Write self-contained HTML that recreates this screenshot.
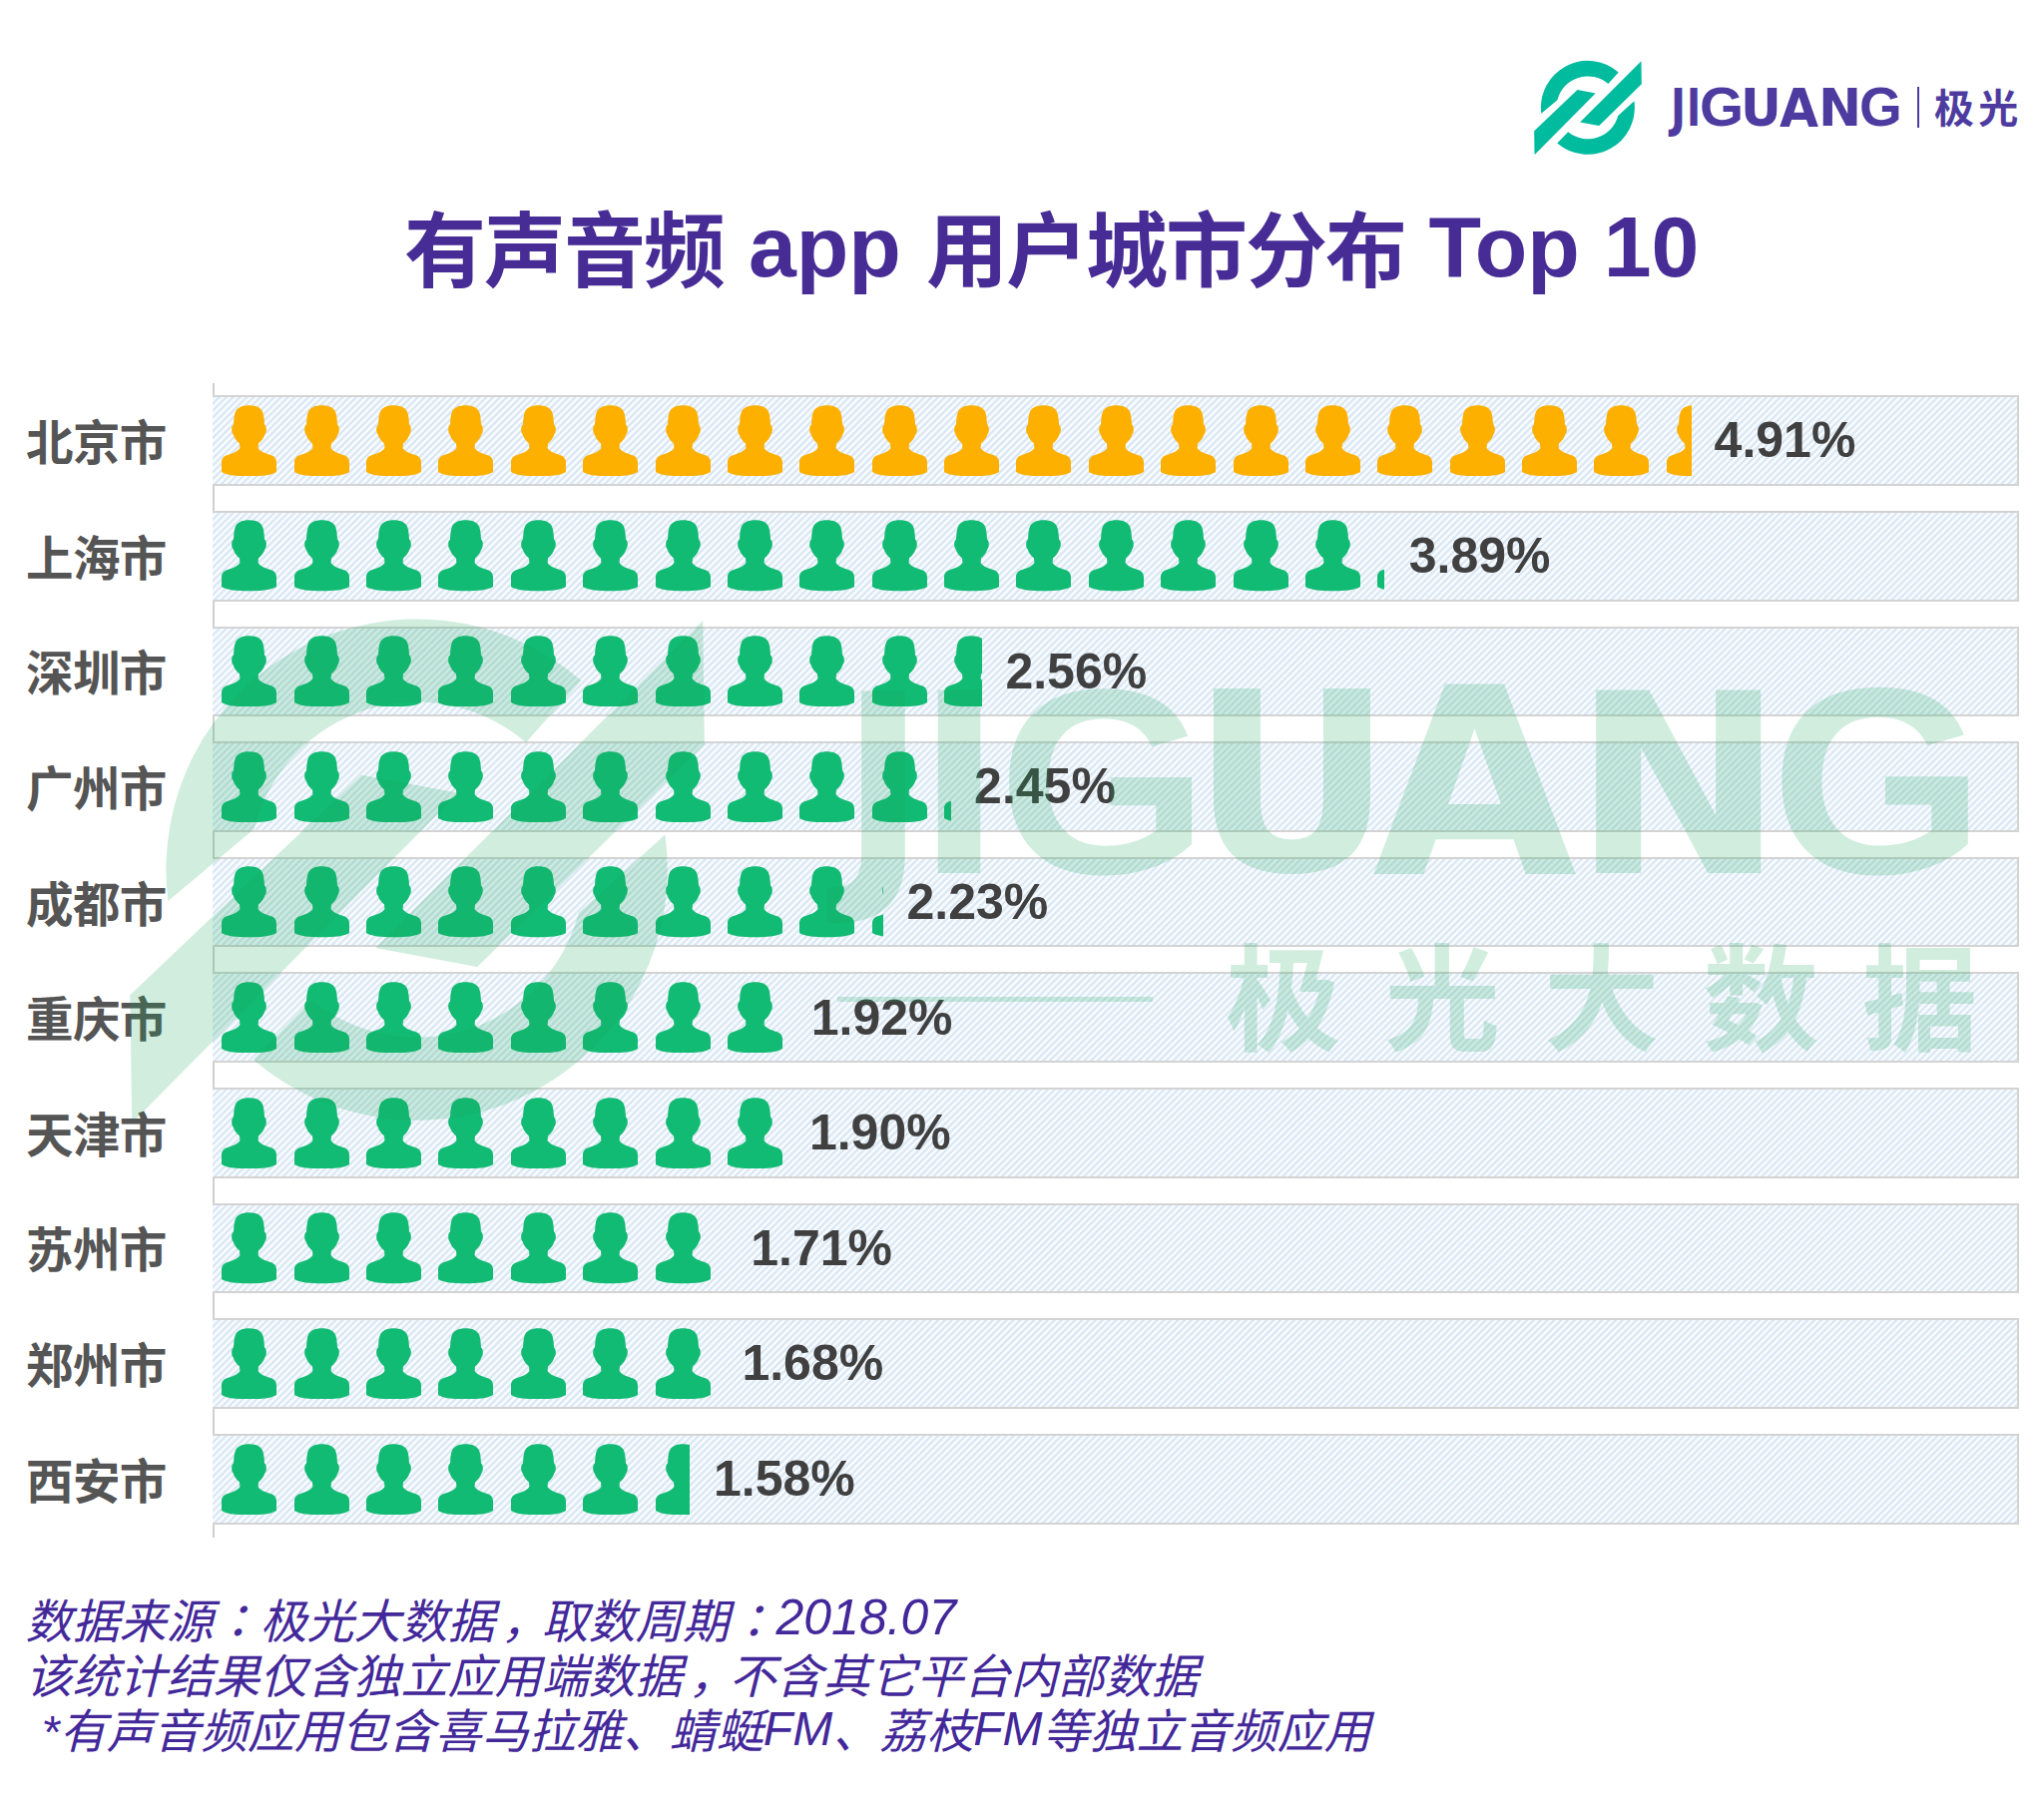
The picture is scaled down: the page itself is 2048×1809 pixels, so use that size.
<!DOCTYPE html>
<html lang="zh-CN"><head><meta charset="utf-8"><title>有声音频 app 用户城市分布 Top 10</title>
<style>
html,body{margin:0;padding:0;background:#fff;}
body{width:2048px;height:1809px;position:relative;overflow:hidden;font-family:"Liberation Sans","Noto Sans CJK SC",sans-serif;}
.abs{position:absolute;display:block;}
.band{position:absolute;left:213px;width:1807.7px;height:86.7px;border:2px solid #d3d3d3;border-left:0;
 background-color:#fdfeff;
 background-image:repeating-linear-gradient(135deg,#d2e3f3 0px,#ebf2f9 1.2px,#fdfeff 2.2px,#fdfeff 2.65px,#ebf2f9 3.65px,#d2e3f3 4.85px);}
.lbl{position:absolute;left:26.1px;font:bold 47.5px/1 "Liberation Sans","Noto Sans CJK SC",sans-serif;letter-spacing:-0.7px;color:#555;white-space:nowrap;}
.pct{position:absolute;font:bold 50px/1 "Liberation Sans",sans-serif;color:#404040;white-space:nowrap;}
.icons{position:absolute;height:72px;overflow:hidden;}
.icons svg{position:absolute;top:0;width:55px;height:71.3px;}
.tc{position:absolute;font:bold 82px/1 "Liberation Sans","Noto Sans CJK SC",sans-serif;letter-spacing:-2px;color:#482C96;white-space:nowrap;}
.tl{position:absolute;font:bold 86px/1 "Liberation Sans",sans-serif;color:#482C96;white-space:nowrap;}
.foot{position:absolute;left:25.5px;font:italic 47px/1 "Liberation Sans","Noto Sans CJK SC",sans-serif;color:#43289A;white-space:nowrap;}
.cj{font-family:"Liberation Sans","Noto Sans CJK JP",sans-serif;}
.cm{position:relative;left:6.5px;}
.ld{font-size:50px;line-height:0;position:relative;top:-4px;}
.fm{font-size:48px;line-height:0;position:relative;top:-3px;}
.wm{position:absolute;left:0;top:0;width:2048px;height:1809px;pointer-events:none;}
</style></head><body>

<svg class="abs" style="left:1530.00px;top:55.00px;width:120.00px;height:105.03px" viewBox="0 0 2044 1789" fill="#00BB9E"><path d="M243.3 1000.3A800 800 0 0 1 1561.8 296.2L1385.2 493.8A535 535 0 0 0 518.1 769.7Z"/><path d="M1829.1 788.0A800 800 0 0 1 515.3 1506.5L701.0 1316.4A535 535 0 0 0 1553.8 1038.5Z"/><path d="M122 1300L860 598L1170 655L140 1697L128 1697Z"/><path d="M1950 105L1955 500L1230 1210L905 1150Z"/></svg>
<div class="abs" style="left:1674.02px;top:83.13px;font:bold 51.08px/1 'DejaVu Sans',sans-serif;color:#4E3BA0;transform-origin:0 0;transform:scaleX(0.7890);white-space:nowrap;">J</div>
<div class="abs" style="left:1690.09px;top:83.06px;font:bold 51.64px/1 'DejaVu Sans',sans-serif;color:#4E3BA0;transform-origin:0 0;transform:scaleX(0.7338);white-space:nowrap;">I</div>
<div class="abs" style="left:1703.03px;top:79.93px;font:bold 55.63px/1 'Liberation Sans',sans-serif;color:#4E3BA0;transform-origin:0 0;transform:scaleX(1.0199);white-space:nowrap;">G</div>
<div class="abs" style="left:1744.17px;top:82.81px;font:bold 51.62px/1 'DejaVu Sans',sans-serif;color:#4E3BA0;transform-origin:0 0;transform:scaleX(0.9747);white-space:nowrap;">U</div>
<div class="abs" style="left:1782.85px;top:81.86px;font:bold 53.38px/1 'DejaVu Sans',sans-serif;color:#4E3BA0;transform-origin:0 0;transform:scaleX(0.9466);white-space:nowrap;">A</div>
<div class="abs" style="left:1821.56px;top:83.06px;font:bold 51.64px/1 'DejaVu Sans',sans-serif;color:#4E3BA0;transform-origin:0 0;transform:scaleX(0.9992);white-space:nowrap;">N</div>
<div class="abs" style="left:1863.30px;top:79.93px;font:bold 55.63px/1 'Liberation Sans',sans-serif;color:#4E3BA0;transform-origin:0 0;transform:scaleX(0.9879);white-space:nowrap;">G</div>
<div class="abs" style="left:1921.3px;top:87.2px;width:1.7px;height:41.3px;background:#4E3BA0;"></div>
<div class="abs" style="left:1938px;top:89.2px;font:bold 40px/1 'Liberation Sans','Noto Sans CJK SC',sans-serif;letter-spacing:4.3px;color:#4E3BA0;white-space:nowrap;">极光</div>
<div class="tc" style="left:405px;top:211.6px">有声音频</div>
<div class="tl" style="left:750px;top:204.3px">app</div>
<div class="tc" style="left:928px;top:211.6px">用户城市分布</div>
<div class="tl" style="left:1431.6px;top:204.3px">Top 10</div>
<div class="abs" style="left:213px;top:384px;width:2px;height:1157px;background:#d0d0d0;"></div>
<div class="band" style="top:396.20px"></div>
<div class="lbl" style="top:420.90px">北京市</div>
<div class="icons" style="left:222.3px;top:405.80px;width:1472.70px"><svg style="left:0.000px" viewBox="0 0 55 71.3" fill="#FEB000"><path d="M27.5 0.2C34 0.2 39 2.2 41 6.5C42.2 9.5 42.5 12.5 42.7 15L43 19.5C45.3 20.5 45.5 27.5 43.3 29.5C42.5 32.5 40.5 35.5 37 38.5L36.6 43C38 46 43 48 49 50C53.5 51.5 55 54 55 57.5L55 67C50 70.3 40 71.3 27.5 71.3C15 71.3 5 70.3 0 67L0 57.5C0 54 1.5 51.5 6 50C12 48 17 46 18.4 43L18 38.5C14.5 35.5 12.5 32.5 11.7 29.5C9.5 27.5 9.7 20.5 12 19.5L12.3 15C12.5 12.5 12.8 9.5 14 6.5C16 2.2 21 0.2 27.5 0.2Z"/></svg><svg style="left:72.375px" viewBox="0 0 55 71.3" fill="#FEB000"><path d="M27.5 0.2C34 0.2 39 2.2 41 6.5C42.2 9.5 42.5 12.5 42.7 15L43 19.5C45.3 20.5 45.5 27.5 43.3 29.5C42.5 32.5 40.5 35.5 37 38.5L36.6 43C38 46 43 48 49 50C53.5 51.5 55 54 55 57.5L55 67C50 70.3 40 71.3 27.5 71.3C15 71.3 5 70.3 0 67L0 57.5C0 54 1.5 51.5 6 50C12 48 17 46 18.4 43L18 38.5C14.5 35.5 12.5 32.5 11.7 29.5C9.5 27.5 9.7 20.5 12 19.5L12.3 15C12.5 12.5 12.8 9.5 14 6.5C16 2.2 21 0.2 27.5 0.2Z"/></svg><svg style="left:144.750px" viewBox="0 0 55 71.3" fill="#FEB000"><path d="M27.5 0.2C34 0.2 39 2.2 41 6.5C42.2 9.5 42.5 12.5 42.7 15L43 19.5C45.3 20.5 45.5 27.5 43.3 29.5C42.5 32.5 40.5 35.5 37 38.5L36.6 43C38 46 43 48 49 50C53.5 51.5 55 54 55 57.5L55 67C50 70.3 40 71.3 27.5 71.3C15 71.3 5 70.3 0 67L0 57.5C0 54 1.5 51.5 6 50C12 48 17 46 18.4 43L18 38.5C14.5 35.5 12.5 32.5 11.7 29.5C9.5 27.5 9.7 20.5 12 19.5L12.3 15C12.5 12.5 12.8 9.5 14 6.5C16 2.2 21 0.2 27.5 0.2Z"/></svg><svg style="left:217.125px" viewBox="0 0 55 71.3" fill="#FEB000"><path d="M27.5 0.2C34 0.2 39 2.2 41 6.5C42.2 9.5 42.5 12.5 42.7 15L43 19.5C45.3 20.5 45.5 27.5 43.3 29.5C42.5 32.5 40.5 35.5 37 38.5L36.6 43C38 46 43 48 49 50C53.5 51.5 55 54 55 57.5L55 67C50 70.3 40 71.3 27.5 71.3C15 71.3 5 70.3 0 67L0 57.5C0 54 1.5 51.5 6 50C12 48 17 46 18.4 43L18 38.5C14.5 35.5 12.5 32.5 11.7 29.5C9.5 27.5 9.7 20.5 12 19.5L12.3 15C12.5 12.5 12.8 9.5 14 6.5C16 2.2 21 0.2 27.5 0.2Z"/></svg><svg style="left:289.500px" viewBox="0 0 55 71.3" fill="#FEB000"><path d="M27.5 0.2C34 0.2 39 2.2 41 6.5C42.2 9.5 42.5 12.5 42.7 15L43 19.5C45.3 20.5 45.5 27.5 43.3 29.5C42.5 32.5 40.5 35.5 37 38.5L36.6 43C38 46 43 48 49 50C53.5 51.5 55 54 55 57.5L55 67C50 70.3 40 71.3 27.5 71.3C15 71.3 5 70.3 0 67L0 57.5C0 54 1.5 51.5 6 50C12 48 17 46 18.4 43L18 38.5C14.5 35.5 12.5 32.5 11.7 29.5C9.5 27.5 9.7 20.5 12 19.5L12.3 15C12.5 12.5 12.8 9.5 14 6.5C16 2.2 21 0.2 27.5 0.2Z"/></svg><svg style="left:361.875px" viewBox="0 0 55 71.3" fill="#FEB000"><path d="M27.5 0.2C34 0.2 39 2.2 41 6.5C42.2 9.5 42.5 12.5 42.7 15L43 19.5C45.3 20.5 45.5 27.5 43.3 29.5C42.5 32.5 40.5 35.5 37 38.5L36.6 43C38 46 43 48 49 50C53.5 51.5 55 54 55 57.5L55 67C50 70.3 40 71.3 27.5 71.3C15 71.3 5 70.3 0 67L0 57.5C0 54 1.5 51.5 6 50C12 48 17 46 18.4 43L18 38.5C14.5 35.5 12.5 32.5 11.7 29.5C9.5 27.5 9.7 20.5 12 19.5L12.3 15C12.5 12.5 12.8 9.5 14 6.5C16 2.2 21 0.2 27.5 0.2Z"/></svg><svg style="left:434.250px" viewBox="0 0 55 71.3" fill="#FEB000"><path d="M27.5 0.2C34 0.2 39 2.2 41 6.5C42.2 9.5 42.5 12.5 42.7 15L43 19.5C45.3 20.5 45.5 27.5 43.3 29.5C42.5 32.5 40.5 35.5 37 38.5L36.6 43C38 46 43 48 49 50C53.5 51.5 55 54 55 57.5L55 67C50 70.3 40 71.3 27.5 71.3C15 71.3 5 70.3 0 67L0 57.5C0 54 1.5 51.5 6 50C12 48 17 46 18.4 43L18 38.5C14.5 35.5 12.5 32.5 11.7 29.5C9.5 27.5 9.7 20.5 12 19.5L12.3 15C12.5 12.5 12.8 9.5 14 6.5C16 2.2 21 0.2 27.5 0.2Z"/></svg><svg style="left:506.625px" viewBox="0 0 55 71.3" fill="#FEB000"><path d="M27.5 0.2C34 0.2 39 2.2 41 6.5C42.2 9.5 42.5 12.5 42.7 15L43 19.5C45.3 20.5 45.5 27.5 43.3 29.5C42.5 32.5 40.5 35.5 37 38.5L36.6 43C38 46 43 48 49 50C53.5 51.5 55 54 55 57.5L55 67C50 70.3 40 71.3 27.5 71.3C15 71.3 5 70.3 0 67L0 57.5C0 54 1.5 51.5 6 50C12 48 17 46 18.4 43L18 38.5C14.5 35.5 12.5 32.5 11.7 29.5C9.5 27.5 9.7 20.5 12 19.5L12.3 15C12.5 12.5 12.8 9.5 14 6.5C16 2.2 21 0.2 27.5 0.2Z"/></svg><svg style="left:579.000px" viewBox="0 0 55 71.3" fill="#FEB000"><path d="M27.5 0.2C34 0.2 39 2.2 41 6.5C42.2 9.5 42.5 12.5 42.7 15L43 19.5C45.3 20.5 45.5 27.5 43.3 29.5C42.5 32.5 40.5 35.5 37 38.5L36.6 43C38 46 43 48 49 50C53.5 51.5 55 54 55 57.5L55 67C50 70.3 40 71.3 27.5 71.3C15 71.3 5 70.3 0 67L0 57.5C0 54 1.5 51.5 6 50C12 48 17 46 18.4 43L18 38.5C14.5 35.5 12.5 32.5 11.7 29.5C9.5 27.5 9.7 20.5 12 19.5L12.3 15C12.5 12.5 12.8 9.5 14 6.5C16 2.2 21 0.2 27.5 0.2Z"/></svg><svg style="left:651.375px" viewBox="0 0 55 71.3" fill="#FEB000"><path d="M27.5 0.2C34 0.2 39 2.2 41 6.5C42.2 9.5 42.5 12.5 42.7 15L43 19.5C45.3 20.5 45.5 27.5 43.3 29.5C42.5 32.5 40.5 35.5 37 38.5L36.6 43C38 46 43 48 49 50C53.5 51.5 55 54 55 57.5L55 67C50 70.3 40 71.3 27.5 71.3C15 71.3 5 70.3 0 67L0 57.5C0 54 1.5 51.5 6 50C12 48 17 46 18.4 43L18 38.5C14.5 35.5 12.5 32.5 11.7 29.5C9.5 27.5 9.7 20.5 12 19.5L12.3 15C12.5 12.5 12.8 9.5 14 6.5C16 2.2 21 0.2 27.5 0.2Z"/></svg><svg style="left:723.750px" viewBox="0 0 55 71.3" fill="#FEB000"><path d="M27.5 0.2C34 0.2 39 2.2 41 6.5C42.2 9.5 42.5 12.5 42.7 15L43 19.5C45.3 20.5 45.5 27.5 43.3 29.5C42.5 32.5 40.5 35.5 37 38.5L36.6 43C38 46 43 48 49 50C53.5 51.5 55 54 55 57.5L55 67C50 70.3 40 71.3 27.5 71.3C15 71.3 5 70.3 0 67L0 57.5C0 54 1.5 51.5 6 50C12 48 17 46 18.4 43L18 38.5C14.5 35.5 12.5 32.5 11.7 29.5C9.5 27.5 9.7 20.5 12 19.5L12.3 15C12.5 12.5 12.8 9.5 14 6.5C16 2.2 21 0.2 27.5 0.2Z"/></svg><svg style="left:796.125px" viewBox="0 0 55 71.3" fill="#FEB000"><path d="M27.5 0.2C34 0.2 39 2.2 41 6.5C42.2 9.5 42.5 12.5 42.7 15L43 19.5C45.3 20.5 45.5 27.5 43.3 29.5C42.5 32.5 40.5 35.5 37 38.5L36.6 43C38 46 43 48 49 50C53.5 51.5 55 54 55 57.5L55 67C50 70.3 40 71.3 27.5 71.3C15 71.3 5 70.3 0 67L0 57.5C0 54 1.5 51.5 6 50C12 48 17 46 18.4 43L18 38.5C14.5 35.5 12.5 32.5 11.7 29.5C9.5 27.5 9.7 20.5 12 19.5L12.3 15C12.5 12.5 12.8 9.5 14 6.5C16 2.2 21 0.2 27.5 0.2Z"/></svg><svg style="left:868.500px" viewBox="0 0 55 71.3" fill="#FEB000"><path d="M27.5 0.2C34 0.2 39 2.2 41 6.5C42.2 9.5 42.5 12.5 42.7 15L43 19.5C45.3 20.5 45.5 27.5 43.3 29.5C42.5 32.5 40.5 35.5 37 38.5L36.6 43C38 46 43 48 49 50C53.5 51.5 55 54 55 57.5L55 67C50 70.3 40 71.3 27.5 71.3C15 71.3 5 70.3 0 67L0 57.5C0 54 1.5 51.5 6 50C12 48 17 46 18.4 43L18 38.5C14.5 35.5 12.5 32.5 11.7 29.5C9.5 27.5 9.7 20.5 12 19.5L12.3 15C12.5 12.5 12.8 9.5 14 6.5C16 2.2 21 0.2 27.5 0.2Z"/></svg><svg style="left:940.875px" viewBox="0 0 55 71.3" fill="#FEB000"><path d="M27.5 0.2C34 0.2 39 2.2 41 6.5C42.2 9.5 42.5 12.5 42.7 15L43 19.5C45.3 20.5 45.5 27.5 43.3 29.5C42.5 32.5 40.5 35.5 37 38.5L36.6 43C38 46 43 48 49 50C53.5 51.5 55 54 55 57.5L55 67C50 70.3 40 71.3 27.5 71.3C15 71.3 5 70.3 0 67L0 57.5C0 54 1.5 51.5 6 50C12 48 17 46 18.4 43L18 38.5C14.5 35.5 12.5 32.5 11.7 29.5C9.5 27.5 9.7 20.5 12 19.5L12.3 15C12.5 12.5 12.8 9.5 14 6.5C16 2.2 21 0.2 27.5 0.2Z"/></svg><svg style="left:1013.250px" viewBox="0 0 55 71.3" fill="#FEB000"><path d="M27.5 0.2C34 0.2 39 2.2 41 6.5C42.2 9.5 42.5 12.5 42.7 15L43 19.5C45.3 20.5 45.5 27.5 43.3 29.5C42.5 32.5 40.5 35.5 37 38.5L36.6 43C38 46 43 48 49 50C53.5 51.5 55 54 55 57.5L55 67C50 70.3 40 71.3 27.5 71.3C15 71.3 5 70.3 0 67L0 57.5C0 54 1.5 51.5 6 50C12 48 17 46 18.4 43L18 38.5C14.5 35.5 12.5 32.5 11.7 29.5C9.5 27.5 9.7 20.5 12 19.5L12.3 15C12.5 12.5 12.8 9.5 14 6.5C16 2.2 21 0.2 27.5 0.2Z"/></svg><svg style="left:1085.625px" viewBox="0 0 55 71.3" fill="#FEB000"><path d="M27.5 0.2C34 0.2 39 2.2 41 6.5C42.2 9.5 42.5 12.5 42.7 15L43 19.5C45.3 20.5 45.5 27.5 43.3 29.5C42.5 32.5 40.5 35.5 37 38.5L36.6 43C38 46 43 48 49 50C53.5 51.5 55 54 55 57.5L55 67C50 70.3 40 71.3 27.5 71.3C15 71.3 5 70.3 0 67L0 57.5C0 54 1.5 51.5 6 50C12 48 17 46 18.4 43L18 38.5C14.5 35.5 12.5 32.5 11.7 29.5C9.5 27.5 9.7 20.5 12 19.5L12.3 15C12.5 12.5 12.8 9.5 14 6.5C16 2.2 21 0.2 27.5 0.2Z"/></svg><svg style="left:1158.000px" viewBox="0 0 55 71.3" fill="#FEB000"><path d="M27.5 0.2C34 0.2 39 2.2 41 6.5C42.2 9.5 42.5 12.5 42.7 15L43 19.5C45.3 20.5 45.5 27.5 43.3 29.5C42.5 32.5 40.5 35.5 37 38.5L36.6 43C38 46 43 48 49 50C53.5 51.5 55 54 55 57.5L55 67C50 70.3 40 71.3 27.5 71.3C15 71.3 5 70.3 0 67L0 57.5C0 54 1.5 51.5 6 50C12 48 17 46 18.4 43L18 38.5C14.5 35.5 12.5 32.5 11.7 29.5C9.5 27.5 9.7 20.5 12 19.5L12.3 15C12.5 12.5 12.8 9.5 14 6.5C16 2.2 21 0.2 27.5 0.2Z"/></svg><svg style="left:1230.375px" viewBox="0 0 55 71.3" fill="#FEB000"><path d="M27.5 0.2C34 0.2 39 2.2 41 6.5C42.2 9.5 42.5 12.5 42.7 15L43 19.5C45.3 20.5 45.5 27.5 43.3 29.5C42.5 32.5 40.5 35.5 37 38.5L36.6 43C38 46 43 48 49 50C53.5 51.5 55 54 55 57.5L55 67C50 70.3 40 71.3 27.5 71.3C15 71.3 5 70.3 0 67L0 57.5C0 54 1.5 51.5 6 50C12 48 17 46 18.4 43L18 38.5C14.5 35.5 12.5 32.5 11.7 29.5C9.5 27.5 9.7 20.5 12 19.5L12.3 15C12.5 12.5 12.8 9.5 14 6.5C16 2.2 21 0.2 27.5 0.2Z"/></svg><svg style="left:1302.750px" viewBox="0 0 55 71.3" fill="#FEB000"><path d="M27.5 0.2C34 0.2 39 2.2 41 6.5C42.2 9.5 42.5 12.5 42.7 15L43 19.5C45.3 20.5 45.5 27.5 43.3 29.5C42.5 32.5 40.5 35.5 37 38.5L36.6 43C38 46 43 48 49 50C53.5 51.5 55 54 55 57.5L55 67C50 70.3 40 71.3 27.5 71.3C15 71.3 5 70.3 0 67L0 57.5C0 54 1.5 51.5 6 50C12 48 17 46 18.4 43L18 38.5C14.5 35.5 12.5 32.5 11.7 29.5C9.5 27.5 9.7 20.5 12 19.5L12.3 15C12.5 12.5 12.8 9.5 14 6.5C16 2.2 21 0.2 27.5 0.2Z"/></svg><svg style="left:1375.125px" viewBox="0 0 55 71.3" fill="#FEB000"><path d="M27.5 0.2C34 0.2 39 2.2 41 6.5C42.2 9.5 42.5 12.5 42.7 15L43 19.5C45.3 20.5 45.5 27.5 43.3 29.5C42.5 32.5 40.5 35.5 37 38.5L36.6 43C38 46 43 48 49 50C53.5 51.5 55 54 55 57.5L55 67C50 70.3 40 71.3 27.5 71.3C15 71.3 5 70.3 0 67L0 57.5C0 54 1.5 51.5 6 50C12 48 17 46 18.4 43L18 38.5C14.5 35.5 12.5 32.5 11.7 29.5C9.5 27.5 9.7 20.5 12 19.5L12.3 15C12.5 12.5 12.8 9.5 14 6.5C16 2.2 21 0.2 27.5 0.2Z"/></svg><svg style="left:1447.500px" viewBox="0 0 55 71.3" fill="#FEB000"><path d="M27.5 0.2C34 0.2 39 2.2 41 6.5C42.2 9.5 42.5 12.5 42.7 15L43 19.5C45.3 20.5 45.5 27.5 43.3 29.5C42.5 32.5 40.5 35.5 37 38.5L36.6 43C38 46 43 48 49 50C53.5 51.5 55 54 55 57.5L55 67C50 70.3 40 71.3 27.5 71.3C15 71.3 5 70.3 0 67L0 57.5C0 54 1.5 51.5 6 50C12 48 17 46 18.4 43L18 38.5C14.5 35.5 12.5 32.5 11.7 29.5C9.5 27.5 9.7 20.5 12 19.5L12.3 15C12.5 12.5 12.8 9.5 14 6.5C16 2.2 21 0.2 27.5 0.2Z"/></svg></div>
<div class="pct" style="left:1717.60px;top:416.25px">4.91%</div>
<div class="band" style="top:511.85px"></div>
<div class="lbl" style="top:536.55px">上海市</div>
<div class="icons" style="left:222.3px;top:521.45px;width:1164.70px"><svg style="left:0.000px" viewBox="0 0 55 71.3" fill="#12BB73"><path d="M27.5 0.2C34 0.2 39 2.2 41 6.5C42.2 9.5 42.5 12.5 42.7 15L43 19.5C45.3 20.5 45.5 27.5 43.3 29.5C42.5 32.5 40.5 35.5 37 38.5L36.6 43C38 46 43 48 49 50C53.5 51.5 55 54 55 57.5L55 67C50 70.3 40 71.3 27.5 71.3C15 71.3 5 70.3 0 67L0 57.5C0 54 1.5 51.5 6 50C12 48 17 46 18.4 43L18 38.5C14.5 35.5 12.5 32.5 11.7 29.5C9.5 27.5 9.7 20.5 12 19.5L12.3 15C12.5 12.5 12.8 9.5 14 6.5C16 2.2 21 0.2 27.5 0.2Z"/></svg><svg style="left:72.375px" viewBox="0 0 55 71.3" fill="#12BB73"><path d="M27.5 0.2C34 0.2 39 2.2 41 6.5C42.2 9.5 42.5 12.5 42.7 15L43 19.5C45.3 20.5 45.5 27.5 43.3 29.5C42.5 32.5 40.5 35.5 37 38.5L36.6 43C38 46 43 48 49 50C53.5 51.5 55 54 55 57.5L55 67C50 70.3 40 71.3 27.5 71.3C15 71.3 5 70.3 0 67L0 57.5C0 54 1.5 51.5 6 50C12 48 17 46 18.4 43L18 38.5C14.5 35.5 12.5 32.5 11.7 29.5C9.5 27.5 9.7 20.5 12 19.5L12.3 15C12.5 12.5 12.8 9.5 14 6.5C16 2.2 21 0.2 27.5 0.2Z"/></svg><svg style="left:144.750px" viewBox="0 0 55 71.3" fill="#12BB73"><path d="M27.5 0.2C34 0.2 39 2.2 41 6.5C42.2 9.5 42.5 12.5 42.7 15L43 19.5C45.3 20.5 45.5 27.5 43.3 29.5C42.5 32.5 40.5 35.5 37 38.5L36.6 43C38 46 43 48 49 50C53.5 51.5 55 54 55 57.5L55 67C50 70.3 40 71.3 27.5 71.3C15 71.3 5 70.3 0 67L0 57.5C0 54 1.5 51.5 6 50C12 48 17 46 18.4 43L18 38.5C14.5 35.5 12.5 32.5 11.7 29.5C9.5 27.5 9.7 20.5 12 19.5L12.3 15C12.5 12.5 12.8 9.5 14 6.5C16 2.2 21 0.2 27.5 0.2Z"/></svg><svg style="left:217.125px" viewBox="0 0 55 71.3" fill="#12BB73"><path d="M27.5 0.2C34 0.2 39 2.2 41 6.5C42.2 9.5 42.5 12.5 42.7 15L43 19.5C45.3 20.5 45.5 27.5 43.3 29.5C42.5 32.5 40.5 35.5 37 38.5L36.6 43C38 46 43 48 49 50C53.5 51.5 55 54 55 57.5L55 67C50 70.3 40 71.3 27.5 71.3C15 71.3 5 70.3 0 67L0 57.5C0 54 1.5 51.5 6 50C12 48 17 46 18.4 43L18 38.5C14.5 35.5 12.5 32.5 11.7 29.5C9.5 27.5 9.7 20.5 12 19.5L12.3 15C12.5 12.5 12.8 9.5 14 6.5C16 2.2 21 0.2 27.5 0.2Z"/></svg><svg style="left:289.500px" viewBox="0 0 55 71.3" fill="#12BB73"><path d="M27.5 0.2C34 0.2 39 2.2 41 6.5C42.2 9.5 42.5 12.5 42.7 15L43 19.5C45.3 20.5 45.5 27.5 43.3 29.5C42.5 32.5 40.5 35.5 37 38.5L36.6 43C38 46 43 48 49 50C53.5 51.5 55 54 55 57.5L55 67C50 70.3 40 71.3 27.5 71.3C15 71.3 5 70.3 0 67L0 57.5C0 54 1.5 51.5 6 50C12 48 17 46 18.4 43L18 38.5C14.5 35.5 12.5 32.5 11.7 29.5C9.5 27.5 9.7 20.5 12 19.5L12.3 15C12.5 12.5 12.8 9.5 14 6.5C16 2.2 21 0.2 27.5 0.2Z"/></svg><svg style="left:361.875px" viewBox="0 0 55 71.3" fill="#12BB73"><path d="M27.5 0.2C34 0.2 39 2.2 41 6.5C42.2 9.5 42.5 12.5 42.7 15L43 19.5C45.3 20.5 45.5 27.5 43.3 29.5C42.5 32.5 40.5 35.5 37 38.5L36.6 43C38 46 43 48 49 50C53.5 51.5 55 54 55 57.5L55 67C50 70.3 40 71.3 27.5 71.3C15 71.3 5 70.3 0 67L0 57.5C0 54 1.5 51.5 6 50C12 48 17 46 18.4 43L18 38.5C14.5 35.5 12.5 32.5 11.7 29.5C9.5 27.5 9.7 20.5 12 19.5L12.3 15C12.5 12.5 12.8 9.5 14 6.5C16 2.2 21 0.2 27.5 0.2Z"/></svg><svg style="left:434.250px" viewBox="0 0 55 71.3" fill="#12BB73"><path d="M27.5 0.2C34 0.2 39 2.2 41 6.5C42.2 9.5 42.5 12.5 42.7 15L43 19.5C45.3 20.5 45.5 27.5 43.3 29.5C42.5 32.5 40.5 35.5 37 38.5L36.6 43C38 46 43 48 49 50C53.5 51.5 55 54 55 57.5L55 67C50 70.3 40 71.3 27.5 71.3C15 71.3 5 70.3 0 67L0 57.5C0 54 1.5 51.5 6 50C12 48 17 46 18.4 43L18 38.5C14.5 35.5 12.5 32.5 11.7 29.5C9.5 27.5 9.7 20.5 12 19.5L12.3 15C12.5 12.5 12.8 9.5 14 6.5C16 2.2 21 0.2 27.5 0.2Z"/></svg><svg style="left:506.625px" viewBox="0 0 55 71.3" fill="#12BB73"><path d="M27.5 0.2C34 0.2 39 2.2 41 6.5C42.2 9.5 42.5 12.5 42.7 15L43 19.5C45.3 20.5 45.5 27.5 43.3 29.5C42.5 32.5 40.5 35.5 37 38.5L36.6 43C38 46 43 48 49 50C53.5 51.5 55 54 55 57.5L55 67C50 70.3 40 71.3 27.5 71.3C15 71.3 5 70.3 0 67L0 57.5C0 54 1.5 51.5 6 50C12 48 17 46 18.4 43L18 38.5C14.5 35.5 12.5 32.5 11.7 29.5C9.5 27.5 9.7 20.5 12 19.5L12.3 15C12.5 12.5 12.8 9.5 14 6.5C16 2.2 21 0.2 27.5 0.2Z"/></svg><svg style="left:579.000px" viewBox="0 0 55 71.3" fill="#12BB73"><path d="M27.5 0.2C34 0.2 39 2.2 41 6.5C42.2 9.5 42.5 12.5 42.7 15L43 19.5C45.3 20.5 45.5 27.5 43.3 29.5C42.5 32.5 40.5 35.5 37 38.5L36.6 43C38 46 43 48 49 50C53.5 51.5 55 54 55 57.5L55 67C50 70.3 40 71.3 27.5 71.3C15 71.3 5 70.3 0 67L0 57.5C0 54 1.5 51.5 6 50C12 48 17 46 18.4 43L18 38.5C14.5 35.5 12.5 32.5 11.7 29.5C9.5 27.5 9.7 20.5 12 19.5L12.3 15C12.5 12.5 12.8 9.5 14 6.5C16 2.2 21 0.2 27.5 0.2Z"/></svg><svg style="left:651.375px" viewBox="0 0 55 71.3" fill="#12BB73"><path d="M27.5 0.2C34 0.2 39 2.2 41 6.5C42.2 9.5 42.5 12.5 42.7 15L43 19.5C45.3 20.5 45.5 27.5 43.3 29.5C42.5 32.5 40.5 35.5 37 38.5L36.6 43C38 46 43 48 49 50C53.5 51.5 55 54 55 57.5L55 67C50 70.3 40 71.3 27.5 71.3C15 71.3 5 70.3 0 67L0 57.5C0 54 1.5 51.5 6 50C12 48 17 46 18.4 43L18 38.5C14.5 35.5 12.5 32.5 11.7 29.5C9.5 27.5 9.7 20.5 12 19.5L12.3 15C12.5 12.5 12.8 9.5 14 6.5C16 2.2 21 0.2 27.5 0.2Z"/></svg><svg style="left:723.750px" viewBox="0 0 55 71.3" fill="#12BB73"><path d="M27.5 0.2C34 0.2 39 2.2 41 6.5C42.2 9.5 42.5 12.5 42.7 15L43 19.5C45.3 20.5 45.5 27.5 43.3 29.5C42.5 32.5 40.5 35.5 37 38.5L36.6 43C38 46 43 48 49 50C53.5 51.5 55 54 55 57.5L55 67C50 70.3 40 71.3 27.5 71.3C15 71.3 5 70.3 0 67L0 57.5C0 54 1.5 51.5 6 50C12 48 17 46 18.4 43L18 38.5C14.5 35.5 12.5 32.5 11.7 29.5C9.5 27.5 9.7 20.5 12 19.5L12.3 15C12.5 12.5 12.8 9.5 14 6.5C16 2.2 21 0.2 27.5 0.2Z"/></svg><svg style="left:796.125px" viewBox="0 0 55 71.3" fill="#12BB73"><path d="M27.5 0.2C34 0.2 39 2.2 41 6.5C42.2 9.5 42.5 12.5 42.7 15L43 19.5C45.3 20.5 45.5 27.5 43.3 29.5C42.5 32.5 40.5 35.5 37 38.5L36.6 43C38 46 43 48 49 50C53.5 51.5 55 54 55 57.5L55 67C50 70.3 40 71.3 27.5 71.3C15 71.3 5 70.3 0 67L0 57.5C0 54 1.5 51.5 6 50C12 48 17 46 18.4 43L18 38.5C14.5 35.5 12.5 32.5 11.7 29.5C9.5 27.5 9.7 20.5 12 19.5L12.3 15C12.5 12.5 12.8 9.5 14 6.5C16 2.2 21 0.2 27.5 0.2Z"/></svg><svg style="left:868.500px" viewBox="0 0 55 71.3" fill="#12BB73"><path d="M27.5 0.2C34 0.2 39 2.2 41 6.5C42.2 9.5 42.5 12.5 42.7 15L43 19.5C45.3 20.5 45.5 27.5 43.3 29.5C42.5 32.5 40.5 35.5 37 38.5L36.6 43C38 46 43 48 49 50C53.5 51.5 55 54 55 57.5L55 67C50 70.3 40 71.3 27.5 71.3C15 71.3 5 70.3 0 67L0 57.5C0 54 1.5 51.5 6 50C12 48 17 46 18.4 43L18 38.5C14.5 35.5 12.5 32.5 11.7 29.5C9.5 27.5 9.7 20.5 12 19.5L12.3 15C12.5 12.5 12.8 9.5 14 6.5C16 2.2 21 0.2 27.5 0.2Z"/></svg><svg style="left:940.875px" viewBox="0 0 55 71.3" fill="#12BB73"><path d="M27.5 0.2C34 0.2 39 2.2 41 6.5C42.2 9.5 42.5 12.5 42.7 15L43 19.5C45.3 20.5 45.5 27.5 43.3 29.5C42.5 32.5 40.5 35.5 37 38.5L36.6 43C38 46 43 48 49 50C53.5 51.5 55 54 55 57.5L55 67C50 70.3 40 71.3 27.5 71.3C15 71.3 5 70.3 0 67L0 57.5C0 54 1.5 51.5 6 50C12 48 17 46 18.4 43L18 38.5C14.5 35.5 12.5 32.5 11.7 29.5C9.5 27.5 9.7 20.5 12 19.5L12.3 15C12.5 12.5 12.8 9.5 14 6.5C16 2.2 21 0.2 27.5 0.2Z"/></svg><svg style="left:1013.250px" viewBox="0 0 55 71.3" fill="#12BB73"><path d="M27.5 0.2C34 0.2 39 2.2 41 6.5C42.2 9.5 42.5 12.5 42.7 15L43 19.5C45.3 20.5 45.5 27.5 43.3 29.5C42.5 32.5 40.5 35.5 37 38.5L36.6 43C38 46 43 48 49 50C53.5 51.5 55 54 55 57.5L55 67C50 70.3 40 71.3 27.5 71.3C15 71.3 5 70.3 0 67L0 57.5C0 54 1.5 51.5 6 50C12 48 17 46 18.4 43L18 38.5C14.5 35.5 12.5 32.5 11.7 29.5C9.5 27.5 9.7 20.5 12 19.5L12.3 15C12.5 12.5 12.8 9.5 14 6.5C16 2.2 21 0.2 27.5 0.2Z"/></svg><svg style="left:1085.625px" viewBox="0 0 55 71.3" fill="#12BB73"><path d="M27.5 0.2C34 0.2 39 2.2 41 6.5C42.2 9.5 42.5 12.5 42.7 15L43 19.5C45.3 20.5 45.5 27.5 43.3 29.5C42.5 32.5 40.5 35.5 37 38.5L36.6 43C38 46 43 48 49 50C53.5 51.5 55 54 55 57.5L55 67C50 70.3 40 71.3 27.5 71.3C15 71.3 5 70.3 0 67L0 57.5C0 54 1.5 51.5 6 50C12 48 17 46 18.4 43L18 38.5C14.5 35.5 12.5 32.5 11.7 29.5C9.5 27.5 9.7 20.5 12 19.5L12.3 15C12.5 12.5 12.8 9.5 14 6.5C16 2.2 21 0.2 27.5 0.2Z"/></svg><svg style="left:1158.000px" viewBox="0 0 55 71.3" fill="#12BB73"><path d="M27.5 0.2C34 0.2 39 2.2 41 6.5C42.2 9.5 42.5 12.5 42.7 15L43 19.5C45.3 20.5 45.5 27.5 43.3 29.5C42.5 32.5 40.5 35.5 37 38.5L36.6 43C38 46 43 48 49 50C53.5 51.5 55 54 55 57.5L55 67C50 70.3 40 71.3 27.5 71.3C15 71.3 5 70.3 0 67L0 57.5C0 54 1.5 51.5 6 50C12 48 17 46 18.4 43L18 38.5C14.5 35.5 12.5 32.5 11.7 29.5C9.5 27.5 9.7 20.5 12 19.5L12.3 15C12.5 12.5 12.8 9.5 14 6.5C16 2.2 21 0.2 27.5 0.2Z"/></svg></div>
<div class="pct" style="left:1411.70px;top:531.90px">3.89%</div>
<div class="band" style="top:627.50px"></div>
<div class="lbl" style="top:652.20px">深圳市</div>
<div class="icons" style="left:222.3px;top:637.10px;width:761.80px"><svg style="left:0.000px" viewBox="0 0 55 71.3" fill="#12BB73"><path d="M27.5 0.2C34 0.2 39 2.2 41 6.5C42.2 9.5 42.5 12.5 42.7 15L43 19.5C45.3 20.5 45.5 27.5 43.3 29.5C42.5 32.5 40.5 35.5 37 38.5L36.6 43C38 46 43 48 49 50C53.5 51.5 55 54 55 57.5L55 67C50 70.3 40 71.3 27.5 71.3C15 71.3 5 70.3 0 67L0 57.5C0 54 1.5 51.5 6 50C12 48 17 46 18.4 43L18 38.5C14.5 35.5 12.5 32.5 11.7 29.5C9.5 27.5 9.7 20.5 12 19.5L12.3 15C12.5 12.5 12.8 9.5 14 6.5C16 2.2 21 0.2 27.5 0.2Z"/></svg><svg style="left:72.375px" viewBox="0 0 55 71.3" fill="#12BB73"><path d="M27.5 0.2C34 0.2 39 2.2 41 6.5C42.2 9.5 42.5 12.5 42.7 15L43 19.5C45.3 20.5 45.5 27.5 43.3 29.5C42.5 32.5 40.5 35.5 37 38.5L36.6 43C38 46 43 48 49 50C53.5 51.5 55 54 55 57.5L55 67C50 70.3 40 71.3 27.5 71.3C15 71.3 5 70.3 0 67L0 57.5C0 54 1.5 51.5 6 50C12 48 17 46 18.4 43L18 38.5C14.5 35.5 12.5 32.5 11.7 29.5C9.5 27.5 9.7 20.5 12 19.5L12.3 15C12.5 12.5 12.8 9.5 14 6.5C16 2.2 21 0.2 27.5 0.2Z"/></svg><svg style="left:144.750px" viewBox="0 0 55 71.3" fill="#12BB73"><path d="M27.5 0.2C34 0.2 39 2.2 41 6.5C42.2 9.5 42.5 12.5 42.7 15L43 19.5C45.3 20.5 45.5 27.5 43.3 29.5C42.5 32.5 40.5 35.5 37 38.5L36.6 43C38 46 43 48 49 50C53.5 51.5 55 54 55 57.5L55 67C50 70.3 40 71.3 27.5 71.3C15 71.3 5 70.3 0 67L0 57.5C0 54 1.5 51.5 6 50C12 48 17 46 18.4 43L18 38.5C14.5 35.5 12.5 32.5 11.7 29.5C9.5 27.5 9.7 20.5 12 19.5L12.3 15C12.5 12.5 12.8 9.5 14 6.5C16 2.2 21 0.2 27.5 0.2Z"/></svg><svg style="left:217.125px" viewBox="0 0 55 71.3" fill="#12BB73"><path d="M27.5 0.2C34 0.2 39 2.2 41 6.5C42.2 9.5 42.5 12.5 42.7 15L43 19.5C45.3 20.5 45.5 27.5 43.3 29.5C42.5 32.5 40.5 35.5 37 38.5L36.6 43C38 46 43 48 49 50C53.5 51.5 55 54 55 57.5L55 67C50 70.3 40 71.3 27.5 71.3C15 71.3 5 70.3 0 67L0 57.5C0 54 1.5 51.5 6 50C12 48 17 46 18.4 43L18 38.5C14.5 35.5 12.5 32.5 11.7 29.5C9.5 27.5 9.7 20.5 12 19.5L12.3 15C12.5 12.5 12.8 9.5 14 6.5C16 2.2 21 0.2 27.5 0.2Z"/></svg><svg style="left:289.500px" viewBox="0 0 55 71.3" fill="#12BB73"><path d="M27.5 0.2C34 0.2 39 2.2 41 6.5C42.2 9.5 42.5 12.5 42.7 15L43 19.5C45.3 20.5 45.5 27.5 43.3 29.5C42.5 32.5 40.5 35.5 37 38.5L36.6 43C38 46 43 48 49 50C53.5 51.5 55 54 55 57.5L55 67C50 70.3 40 71.3 27.5 71.3C15 71.3 5 70.3 0 67L0 57.5C0 54 1.5 51.5 6 50C12 48 17 46 18.4 43L18 38.5C14.5 35.5 12.5 32.5 11.7 29.5C9.5 27.5 9.7 20.5 12 19.5L12.3 15C12.5 12.5 12.8 9.5 14 6.5C16 2.2 21 0.2 27.5 0.2Z"/></svg><svg style="left:361.875px" viewBox="0 0 55 71.3" fill="#12BB73"><path d="M27.5 0.2C34 0.2 39 2.2 41 6.5C42.2 9.5 42.5 12.5 42.7 15L43 19.5C45.3 20.5 45.5 27.5 43.3 29.5C42.5 32.5 40.5 35.5 37 38.5L36.6 43C38 46 43 48 49 50C53.5 51.5 55 54 55 57.5L55 67C50 70.3 40 71.3 27.5 71.3C15 71.3 5 70.3 0 67L0 57.5C0 54 1.5 51.5 6 50C12 48 17 46 18.4 43L18 38.5C14.5 35.5 12.5 32.5 11.7 29.5C9.5 27.5 9.7 20.5 12 19.5L12.3 15C12.5 12.5 12.8 9.5 14 6.5C16 2.2 21 0.2 27.5 0.2Z"/></svg><svg style="left:434.250px" viewBox="0 0 55 71.3" fill="#12BB73"><path d="M27.5 0.2C34 0.2 39 2.2 41 6.5C42.2 9.5 42.5 12.5 42.7 15L43 19.5C45.3 20.5 45.5 27.5 43.3 29.5C42.5 32.5 40.5 35.5 37 38.5L36.6 43C38 46 43 48 49 50C53.5 51.5 55 54 55 57.5L55 67C50 70.3 40 71.3 27.5 71.3C15 71.3 5 70.3 0 67L0 57.5C0 54 1.5 51.5 6 50C12 48 17 46 18.4 43L18 38.5C14.5 35.5 12.5 32.5 11.7 29.5C9.5 27.5 9.7 20.5 12 19.5L12.3 15C12.5 12.5 12.8 9.5 14 6.5C16 2.2 21 0.2 27.5 0.2Z"/></svg><svg style="left:506.625px" viewBox="0 0 55 71.3" fill="#12BB73"><path d="M27.5 0.2C34 0.2 39 2.2 41 6.5C42.2 9.5 42.5 12.5 42.7 15L43 19.5C45.3 20.5 45.5 27.5 43.3 29.5C42.5 32.5 40.5 35.5 37 38.5L36.6 43C38 46 43 48 49 50C53.5 51.5 55 54 55 57.5L55 67C50 70.3 40 71.3 27.5 71.3C15 71.3 5 70.3 0 67L0 57.5C0 54 1.5 51.5 6 50C12 48 17 46 18.4 43L18 38.5C14.5 35.5 12.5 32.5 11.7 29.5C9.5 27.5 9.7 20.5 12 19.5L12.3 15C12.5 12.5 12.8 9.5 14 6.5C16 2.2 21 0.2 27.5 0.2Z"/></svg><svg style="left:579.000px" viewBox="0 0 55 71.3" fill="#12BB73"><path d="M27.5 0.2C34 0.2 39 2.2 41 6.5C42.2 9.5 42.5 12.5 42.7 15L43 19.5C45.3 20.5 45.5 27.5 43.3 29.5C42.5 32.5 40.5 35.5 37 38.5L36.6 43C38 46 43 48 49 50C53.5 51.5 55 54 55 57.5L55 67C50 70.3 40 71.3 27.5 71.3C15 71.3 5 70.3 0 67L0 57.5C0 54 1.5 51.5 6 50C12 48 17 46 18.4 43L18 38.5C14.5 35.5 12.5 32.5 11.7 29.5C9.5 27.5 9.7 20.5 12 19.5L12.3 15C12.5 12.5 12.8 9.5 14 6.5C16 2.2 21 0.2 27.5 0.2Z"/></svg><svg style="left:651.375px" viewBox="0 0 55 71.3" fill="#12BB73"><path d="M27.5 0.2C34 0.2 39 2.2 41 6.5C42.2 9.5 42.5 12.5 42.7 15L43 19.5C45.3 20.5 45.5 27.5 43.3 29.5C42.5 32.5 40.5 35.5 37 38.5L36.6 43C38 46 43 48 49 50C53.5 51.5 55 54 55 57.5L55 67C50 70.3 40 71.3 27.5 71.3C15 71.3 5 70.3 0 67L0 57.5C0 54 1.5 51.5 6 50C12 48 17 46 18.4 43L18 38.5C14.5 35.5 12.5 32.5 11.7 29.5C9.5 27.5 9.7 20.5 12 19.5L12.3 15C12.5 12.5 12.8 9.5 14 6.5C16 2.2 21 0.2 27.5 0.2Z"/></svg><svg style="left:723.750px" viewBox="0 0 55 71.3" fill="#12BB73"><path d="M27.5 0.2C34 0.2 39 2.2 41 6.5C42.2 9.5 42.5 12.5 42.7 15L43 19.5C45.3 20.5 45.5 27.5 43.3 29.5C42.5 32.5 40.5 35.5 37 38.5L36.6 43C38 46 43 48 49 50C53.5 51.5 55 54 55 57.5L55 67C50 70.3 40 71.3 27.5 71.3C15 71.3 5 70.3 0 67L0 57.5C0 54 1.5 51.5 6 50C12 48 17 46 18.4 43L18 38.5C14.5 35.5 12.5 32.5 11.7 29.5C9.5 27.5 9.7 20.5 12 19.5L12.3 15C12.5 12.5 12.8 9.5 14 6.5C16 2.2 21 0.2 27.5 0.2Z"/></svg></div>
<div class="pct" style="left:1007.40px;top:647.55px">2.56%</div>
<div class="band" style="top:743.15px"></div>
<div class="lbl" style="top:767.85px">广州市</div>
<div class="icons" style="left:222.3px;top:752.75px;width:730.50px"><svg style="left:0.000px" viewBox="0 0 55 71.3" fill="#12BB73"><path d="M27.5 0.2C34 0.2 39 2.2 41 6.5C42.2 9.5 42.5 12.5 42.7 15L43 19.5C45.3 20.5 45.5 27.5 43.3 29.5C42.5 32.5 40.5 35.5 37 38.5L36.6 43C38 46 43 48 49 50C53.5 51.5 55 54 55 57.5L55 67C50 70.3 40 71.3 27.5 71.3C15 71.3 5 70.3 0 67L0 57.5C0 54 1.5 51.5 6 50C12 48 17 46 18.4 43L18 38.5C14.5 35.5 12.5 32.5 11.7 29.5C9.5 27.5 9.7 20.5 12 19.5L12.3 15C12.5 12.5 12.8 9.5 14 6.5C16 2.2 21 0.2 27.5 0.2Z"/></svg><svg style="left:72.375px" viewBox="0 0 55 71.3" fill="#12BB73"><path d="M27.5 0.2C34 0.2 39 2.2 41 6.5C42.2 9.5 42.5 12.5 42.7 15L43 19.5C45.3 20.5 45.5 27.5 43.3 29.5C42.5 32.5 40.5 35.5 37 38.5L36.6 43C38 46 43 48 49 50C53.5 51.5 55 54 55 57.5L55 67C50 70.3 40 71.3 27.5 71.3C15 71.3 5 70.3 0 67L0 57.5C0 54 1.5 51.5 6 50C12 48 17 46 18.4 43L18 38.5C14.5 35.5 12.5 32.5 11.7 29.5C9.5 27.5 9.7 20.5 12 19.5L12.3 15C12.5 12.5 12.8 9.5 14 6.5C16 2.2 21 0.2 27.5 0.2Z"/></svg><svg style="left:144.750px" viewBox="0 0 55 71.3" fill="#12BB73"><path d="M27.5 0.2C34 0.2 39 2.2 41 6.5C42.2 9.5 42.5 12.5 42.7 15L43 19.5C45.3 20.5 45.5 27.5 43.3 29.5C42.5 32.5 40.5 35.5 37 38.5L36.6 43C38 46 43 48 49 50C53.5 51.5 55 54 55 57.5L55 67C50 70.3 40 71.3 27.5 71.3C15 71.3 5 70.3 0 67L0 57.5C0 54 1.5 51.5 6 50C12 48 17 46 18.4 43L18 38.5C14.5 35.5 12.5 32.5 11.7 29.5C9.5 27.5 9.7 20.5 12 19.5L12.3 15C12.5 12.5 12.8 9.5 14 6.5C16 2.2 21 0.2 27.5 0.2Z"/></svg><svg style="left:217.125px" viewBox="0 0 55 71.3" fill="#12BB73"><path d="M27.5 0.2C34 0.2 39 2.2 41 6.5C42.2 9.5 42.5 12.5 42.7 15L43 19.5C45.3 20.5 45.5 27.5 43.3 29.5C42.5 32.5 40.5 35.5 37 38.5L36.6 43C38 46 43 48 49 50C53.5 51.5 55 54 55 57.5L55 67C50 70.3 40 71.3 27.5 71.3C15 71.3 5 70.3 0 67L0 57.5C0 54 1.5 51.5 6 50C12 48 17 46 18.4 43L18 38.5C14.5 35.5 12.5 32.5 11.7 29.5C9.5 27.5 9.7 20.5 12 19.5L12.3 15C12.5 12.5 12.8 9.5 14 6.5C16 2.2 21 0.2 27.5 0.2Z"/></svg><svg style="left:289.500px" viewBox="0 0 55 71.3" fill="#12BB73"><path d="M27.5 0.2C34 0.2 39 2.2 41 6.5C42.2 9.5 42.5 12.5 42.7 15L43 19.5C45.3 20.5 45.5 27.5 43.3 29.5C42.5 32.5 40.5 35.5 37 38.5L36.6 43C38 46 43 48 49 50C53.5 51.5 55 54 55 57.5L55 67C50 70.3 40 71.3 27.5 71.3C15 71.3 5 70.3 0 67L0 57.5C0 54 1.5 51.5 6 50C12 48 17 46 18.4 43L18 38.5C14.5 35.5 12.5 32.5 11.7 29.5C9.5 27.5 9.7 20.5 12 19.5L12.3 15C12.5 12.5 12.8 9.5 14 6.5C16 2.2 21 0.2 27.5 0.2Z"/></svg><svg style="left:361.875px" viewBox="0 0 55 71.3" fill="#12BB73"><path d="M27.5 0.2C34 0.2 39 2.2 41 6.5C42.2 9.5 42.5 12.5 42.7 15L43 19.5C45.3 20.5 45.5 27.5 43.3 29.5C42.5 32.5 40.5 35.5 37 38.5L36.6 43C38 46 43 48 49 50C53.5 51.5 55 54 55 57.5L55 67C50 70.3 40 71.3 27.5 71.3C15 71.3 5 70.3 0 67L0 57.5C0 54 1.5 51.5 6 50C12 48 17 46 18.4 43L18 38.5C14.5 35.5 12.5 32.5 11.7 29.5C9.5 27.5 9.7 20.5 12 19.5L12.3 15C12.5 12.5 12.8 9.5 14 6.5C16 2.2 21 0.2 27.5 0.2Z"/></svg><svg style="left:434.250px" viewBox="0 0 55 71.3" fill="#12BB73"><path d="M27.5 0.2C34 0.2 39 2.2 41 6.5C42.2 9.5 42.5 12.5 42.7 15L43 19.5C45.3 20.5 45.5 27.5 43.3 29.5C42.5 32.5 40.5 35.5 37 38.5L36.6 43C38 46 43 48 49 50C53.5 51.5 55 54 55 57.5L55 67C50 70.3 40 71.3 27.5 71.3C15 71.3 5 70.3 0 67L0 57.5C0 54 1.5 51.5 6 50C12 48 17 46 18.4 43L18 38.5C14.5 35.5 12.5 32.5 11.7 29.5C9.5 27.5 9.7 20.5 12 19.5L12.3 15C12.5 12.5 12.8 9.5 14 6.5C16 2.2 21 0.2 27.5 0.2Z"/></svg><svg style="left:506.625px" viewBox="0 0 55 71.3" fill="#12BB73"><path d="M27.5 0.2C34 0.2 39 2.2 41 6.5C42.2 9.5 42.5 12.5 42.7 15L43 19.5C45.3 20.5 45.5 27.5 43.3 29.5C42.5 32.5 40.5 35.5 37 38.5L36.6 43C38 46 43 48 49 50C53.5 51.5 55 54 55 57.5L55 67C50 70.3 40 71.3 27.5 71.3C15 71.3 5 70.3 0 67L0 57.5C0 54 1.5 51.5 6 50C12 48 17 46 18.4 43L18 38.5C14.5 35.5 12.5 32.5 11.7 29.5C9.5 27.5 9.7 20.5 12 19.5L12.3 15C12.5 12.5 12.8 9.5 14 6.5C16 2.2 21 0.2 27.5 0.2Z"/></svg><svg style="left:579.000px" viewBox="0 0 55 71.3" fill="#12BB73"><path d="M27.5 0.2C34 0.2 39 2.2 41 6.5C42.2 9.5 42.5 12.5 42.7 15L43 19.5C45.3 20.5 45.5 27.5 43.3 29.5C42.5 32.5 40.5 35.5 37 38.5L36.6 43C38 46 43 48 49 50C53.5 51.5 55 54 55 57.5L55 67C50 70.3 40 71.3 27.5 71.3C15 71.3 5 70.3 0 67L0 57.5C0 54 1.5 51.5 6 50C12 48 17 46 18.4 43L18 38.5C14.5 35.5 12.5 32.5 11.7 29.5C9.5 27.5 9.7 20.5 12 19.5L12.3 15C12.5 12.5 12.8 9.5 14 6.5C16 2.2 21 0.2 27.5 0.2Z"/></svg><svg style="left:651.375px" viewBox="0 0 55 71.3" fill="#12BB73"><path d="M27.5 0.2C34 0.2 39 2.2 41 6.5C42.2 9.5 42.5 12.5 42.7 15L43 19.5C45.3 20.5 45.5 27.5 43.3 29.5C42.5 32.5 40.5 35.5 37 38.5L36.6 43C38 46 43 48 49 50C53.5 51.5 55 54 55 57.5L55 67C50 70.3 40 71.3 27.5 71.3C15 71.3 5 70.3 0 67L0 57.5C0 54 1.5 51.5 6 50C12 48 17 46 18.4 43L18 38.5C14.5 35.5 12.5 32.5 11.7 29.5C9.5 27.5 9.7 20.5 12 19.5L12.3 15C12.5 12.5 12.8 9.5 14 6.5C16 2.2 21 0.2 27.5 0.2Z"/></svg><svg style="left:723.750px" viewBox="0 0 55 71.3" fill="#12BB73"><path d="M27.5 0.2C34 0.2 39 2.2 41 6.5C42.2 9.5 42.5 12.5 42.7 15L43 19.5C45.3 20.5 45.5 27.5 43.3 29.5C42.5 32.5 40.5 35.5 37 38.5L36.6 43C38 46 43 48 49 50C53.5 51.5 55 54 55 57.5L55 67C50 70.3 40 71.3 27.5 71.3C15 71.3 5 70.3 0 67L0 57.5C0 54 1.5 51.5 6 50C12 48 17 46 18.4 43L18 38.5C14.5 35.5 12.5 32.5 11.7 29.5C9.5 27.5 9.7 20.5 12 19.5L12.3 15C12.5 12.5 12.8 9.5 14 6.5C16 2.2 21 0.2 27.5 0.2Z"/></svg></div>
<div class="pct" style="left:976.10px;top:763.20px">2.45%</div>
<div class="band" style="top:858.80px"></div>
<div class="lbl" style="top:883.50px">成都市</div>
<div class="icons" style="left:222.3px;top:868.40px;width:662.40px"><svg style="left:0.000px" viewBox="0 0 55 71.3" fill="#12BB73"><path d="M27.5 0.2C34 0.2 39 2.2 41 6.5C42.2 9.5 42.5 12.5 42.7 15L43 19.5C45.3 20.5 45.5 27.5 43.3 29.5C42.5 32.5 40.5 35.5 37 38.5L36.6 43C38 46 43 48 49 50C53.5 51.5 55 54 55 57.5L55 67C50 70.3 40 71.3 27.5 71.3C15 71.3 5 70.3 0 67L0 57.5C0 54 1.5 51.5 6 50C12 48 17 46 18.4 43L18 38.5C14.5 35.5 12.5 32.5 11.7 29.5C9.5 27.5 9.7 20.5 12 19.5L12.3 15C12.5 12.5 12.8 9.5 14 6.5C16 2.2 21 0.2 27.5 0.2Z"/></svg><svg style="left:72.375px" viewBox="0 0 55 71.3" fill="#12BB73"><path d="M27.5 0.2C34 0.2 39 2.2 41 6.5C42.2 9.5 42.5 12.5 42.7 15L43 19.5C45.3 20.5 45.5 27.5 43.3 29.5C42.5 32.5 40.5 35.5 37 38.5L36.6 43C38 46 43 48 49 50C53.5 51.5 55 54 55 57.5L55 67C50 70.3 40 71.3 27.5 71.3C15 71.3 5 70.3 0 67L0 57.5C0 54 1.5 51.5 6 50C12 48 17 46 18.4 43L18 38.5C14.5 35.5 12.5 32.5 11.7 29.5C9.5 27.5 9.7 20.5 12 19.5L12.3 15C12.5 12.5 12.8 9.5 14 6.5C16 2.2 21 0.2 27.5 0.2Z"/></svg><svg style="left:144.750px" viewBox="0 0 55 71.3" fill="#12BB73"><path d="M27.5 0.2C34 0.2 39 2.2 41 6.5C42.2 9.5 42.5 12.5 42.7 15L43 19.5C45.3 20.5 45.5 27.5 43.3 29.5C42.5 32.5 40.5 35.5 37 38.5L36.6 43C38 46 43 48 49 50C53.5 51.5 55 54 55 57.5L55 67C50 70.3 40 71.3 27.5 71.3C15 71.3 5 70.3 0 67L0 57.5C0 54 1.5 51.5 6 50C12 48 17 46 18.4 43L18 38.5C14.5 35.5 12.5 32.5 11.7 29.5C9.5 27.5 9.7 20.5 12 19.5L12.3 15C12.5 12.5 12.8 9.5 14 6.5C16 2.2 21 0.2 27.5 0.2Z"/></svg><svg style="left:217.125px" viewBox="0 0 55 71.3" fill="#12BB73"><path d="M27.5 0.2C34 0.2 39 2.2 41 6.5C42.2 9.5 42.5 12.5 42.7 15L43 19.5C45.3 20.5 45.5 27.5 43.3 29.5C42.5 32.5 40.5 35.5 37 38.5L36.6 43C38 46 43 48 49 50C53.5 51.5 55 54 55 57.5L55 67C50 70.3 40 71.3 27.5 71.3C15 71.3 5 70.3 0 67L0 57.5C0 54 1.5 51.5 6 50C12 48 17 46 18.4 43L18 38.5C14.5 35.5 12.5 32.5 11.7 29.5C9.5 27.5 9.7 20.5 12 19.5L12.3 15C12.5 12.5 12.8 9.5 14 6.5C16 2.2 21 0.2 27.5 0.2Z"/></svg><svg style="left:289.500px" viewBox="0 0 55 71.3" fill="#12BB73"><path d="M27.5 0.2C34 0.2 39 2.2 41 6.5C42.2 9.5 42.5 12.5 42.7 15L43 19.5C45.3 20.5 45.5 27.5 43.3 29.5C42.5 32.5 40.5 35.5 37 38.5L36.6 43C38 46 43 48 49 50C53.5 51.5 55 54 55 57.5L55 67C50 70.3 40 71.3 27.5 71.3C15 71.3 5 70.3 0 67L0 57.5C0 54 1.5 51.5 6 50C12 48 17 46 18.4 43L18 38.5C14.5 35.5 12.5 32.5 11.7 29.5C9.5 27.5 9.7 20.5 12 19.5L12.3 15C12.5 12.5 12.8 9.5 14 6.5C16 2.2 21 0.2 27.5 0.2Z"/></svg><svg style="left:361.875px" viewBox="0 0 55 71.3" fill="#12BB73"><path d="M27.5 0.2C34 0.2 39 2.2 41 6.5C42.2 9.5 42.5 12.5 42.7 15L43 19.5C45.3 20.5 45.5 27.5 43.3 29.5C42.5 32.5 40.5 35.5 37 38.5L36.6 43C38 46 43 48 49 50C53.5 51.5 55 54 55 57.5L55 67C50 70.3 40 71.3 27.5 71.3C15 71.3 5 70.3 0 67L0 57.5C0 54 1.5 51.5 6 50C12 48 17 46 18.4 43L18 38.5C14.5 35.5 12.5 32.5 11.7 29.5C9.5 27.5 9.7 20.5 12 19.5L12.3 15C12.5 12.5 12.8 9.5 14 6.5C16 2.2 21 0.2 27.5 0.2Z"/></svg><svg style="left:434.250px" viewBox="0 0 55 71.3" fill="#12BB73"><path d="M27.5 0.2C34 0.2 39 2.2 41 6.5C42.2 9.5 42.5 12.5 42.7 15L43 19.5C45.3 20.5 45.5 27.5 43.3 29.5C42.5 32.5 40.5 35.5 37 38.5L36.6 43C38 46 43 48 49 50C53.5 51.5 55 54 55 57.5L55 67C50 70.3 40 71.3 27.5 71.3C15 71.3 5 70.3 0 67L0 57.5C0 54 1.5 51.5 6 50C12 48 17 46 18.4 43L18 38.5C14.5 35.5 12.5 32.5 11.7 29.5C9.5 27.5 9.7 20.5 12 19.5L12.3 15C12.5 12.5 12.8 9.5 14 6.5C16 2.2 21 0.2 27.5 0.2Z"/></svg><svg style="left:506.625px" viewBox="0 0 55 71.3" fill="#12BB73"><path d="M27.5 0.2C34 0.2 39 2.2 41 6.5C42.2 9.5 42.5 12.5 42.7 15L43 19.5C45.3 20.5 45.5 27.5 43.3 29.5C42.5 32.5 40.5 35.5 37 38.5L36.6 43C38 46 43 48 49 50C53.5 51.5 55 54 55 57.5L55 67C50 70.3 40 71.3 27.5 71.3C15 71.3 5 70.3 0 67L0 57.5C0 54 1.5 51.5 6 50C12 48 17 46 18.4 43L18 38.5C14.5 35.5 12.5 32.5 11.7 29.5C9.5 27.5 9.7 20.5 12 19.5L12.3 15C12.5 12.5 12.8 9.5 14 6.5C16 2.2 21 0.2 27.5 0.2Z"/></svg><svg style="left:579.000px" viewBox="0 0 55 71.3" fill="#12BB73"><path d="M27.5 0.2C34 0.2 39 2.2 41 6.5C42.2 9.5 42.5 12.5 42.7 15L43 19.5C45.3 20.5 45.5 27.5 43.3 29.5C42.5 32.5 40.5 35.5 37 38.5L36.6 43C38 46 43 48 49 50C53.5 51.5 55 54 55 57.5L55 67C50 70.3 40 71.3 27.5 71.3C15 71.3 5 70.3 0 67L0 57.5C0 54 1.5 51.5 6 50C12 48 17 46 18.4 43L18 38.5C14.5 35.5 12.5 32.5 11.7 29.5C9.5 27.5 9.7 20.5 12 19.5L12.3 15C12.5 12.5 12.8 9.5 14 6.5C16 2.2 21 0.2 27.5 0.2Z"/></svg><svg style="left:651.375px" viewBox="0 0 55 71.3" fill="#12BB73"><path d="M27.5 0.2C34 0.2 39 2.2 41 6.5C42.2 9.5 42.5 12.5 42.7 15L43 19.5C45.3 20.5 45.5 27.5 43.3 29.5C42.5 32.5 40.5 35.5 37 38.5L36.6 43C38 46 43 48 49 50C53.5 51.5 55 54 55 57.5L55 67C50 70.3 40 71.3 27.5 71.3C15 71.3 5 70.3 0 67L0 57.5C0 54 1.5 51.5 6 50C12 48 17 46 18.4 43L18 38.5C14.5 35.5 12.5 32.5 11.7 29.5C9.5 27.5 9.7 20.5 12 19.5L12.3 15C12.5 12.5 12.8 9.5 14 6.5C16 2.2 21 0.2 27.5 0.2Z"/></svg></div>
<div class="pct" style="left:908.50px;top:878.85px">2.23%</div>
<div class="band" style="top:974.45px"></div>
<div class="lbl" style="top:999.15px">重庆市</div>
<div class="icons" style="left:222.3px;top:984.05px;width:561.62px"><svg style="left:0.000px" viewBox="0 0 55 71.3" fill="#12BB73"><path d="M27.5 0.2C34 0.2 39 2.2 41 6.5C42.2 9.5 42.5 12.5 42.7 15L43 19.5C45.3 20.5 45.5 27.5 43.3 29.5C42.5 32.5 40.5 35.5 37 38.5L36.6 43C38 46 43 48 49 50C53.5 51.5 55 54 55 57.5L55 67C50 70.3 40 71.3 27.5 71.3C15 71.3 5 70.3 0 67L0 57.5C0 54 1.5 51.5 6 50C12 48 17 46 18.4 43L18 38.5C14.5 35.5 12.5 32.5 11.7 29.5C9.5 27.5 9.7 20.5 12 19.5L12.3 15C12.5 12.5 12.8 9.5 14 6.5C16 2.2 21 0.2 27.5 0.2Z"/></svg><svg style="left:72.375px" viewBox="0 0 55 71.3" fill="#12BB73"><path d="M27.5 0.2C34 0.2 39 2.2 41 6.5C42.2 9.5 42.5 12.5 42.7 15L43 19.5C45.3 20.5 45.5 27.5 43.3 29.5C42.5 32.5 40.5 35.5 37 38.5L36.6 43C38 46 43 48 49 50C53.5 51.5 55 54 55 57.5L55 67C50 70.3 40 71.3 27.5 71.3C15 71.3 5 70.3 0 67L0 57.5C0 54 1.5 51.5 6 50C12 48 17 46 18.4 43L18 38.5C14.5 35.5 12.5 32.5 11.7 29.5C9.5 27.5 9.7 20.5 12 19.5L12.3 15C12.5 12.5 12.8 9.5 14 6.5C16 2.2 21 0.2 27.5 0.2Z"/></svg><svg style="left:144.750px" viewBox="0 0 55 71.3" fill="#12BB73"><path d="M27.5 0.2C34 0.2 39 2.2 41 6.5C42.2 9.5 42.5 12.5 42.7 15L43 19.5C45.3 20.5 45.5 27.5 43.3 29.5C42.5 32.5 40.5 35.5 37 38.5L36.6 43C38 46 43 48 49 50C53.5 51.5 55 54 55 57.5L55 67C50 70.3 40 71.3 27.5 71.3C15 71.3 5 70.3 0 67L0 57.5C0 54 1.5 51.5 6 50C12 48 17 46 18.4 43L18 38.5C14.5 35.5 12.5 32.5 11.7 29.5C9.5 27.5 9.7 20.5 12 19.5L12.3 15C12.5 12.5 12.8 9.5 14 6.5C16 2.2 21 0.2 27.5 0.2Z"/></svg><svg style="left:217.125px" viewBox="0 0 55 71.3" fill="#12BB73"><path d="M27.5 0.2C34 0.2 39 2.2 41 6.5C42.2 9.5 42.5 12.5 42.7 15L43 19.5C45.3 20.5 45.5 27.5 43.3 29.5C42.5 32.5 40.5 35.5 37 38.5L36.6 43C38 46 43 48 49 50C53.5 51.5 55 54 55 57.5L55 67C50 70.3 40 71.3 27.5 71.3C15 71.3 5 70.3 0 67L0 57.5C0 54 1.5 51.5 6 50C12 48 17 46 18.4 43L18 38.5C14.5 35.5 12.5 32.5 11.7 29.5C9.5 27.5 9.7 20.5 12 19.5L12.3 15C12.5 12.5 12.8 9.5 14 6.5C16 2.2 21 0.2 27.5 0.2Z"/></svg><svg style="left:289.500px" viewBox="0 0 55 71.3" fill="#12BB73"><path d="M27.5 0.2C34 0.2 39 2.2 41 6.5C42.2 9.5 42.5 12.5 42.7 15L43 19.5C45.3 20.5 45.5 27.5 43.3 29.5C42.5 32.5 40.5 35.5 37 38.5L36.6 43C38 46 43 48 49 50C53.5 51.5 55 54 55 57.5L55 67C50 70.3 40 71.3 27.5 71.3C15 71.3 5 70.3 0 67L0 57.5C0 54 1.5 51.5 6 50C12 48 17 46 18.4 43L18 38.5C14.5 35.5 12.5 32.5 11.7 29.5C9.5 27.5 9.7 20.5 12 19.5L12.3 15C12.5 12.5 12.8 9.5 14 6.5C16 2.2 21 0.2 27.5 0.2Z"/></svg><svg style="left:361.875px" viewBox="0 0 55 71.3" fill="#12BB73"><path d="M27.5 0.2C34 0.2 39 2.2 41 6.5C42.2 9.5 42.5 12.5 42.7 15L43 19.5C45.3 20.5 45.5 27.5 43.3 29.5C42.5 32.5 40.5 35.5 37 38.5L36.6 43C38 46 43 48 49 50C53.5 51.5 55 54 55 57.5L55 67C50 70.3 40 71.3 27.5 71.3C15 71.3 5 70.3 0 67L0 57.5C0 54 1.5 51.5 6 50C12 48 17 46 18.4 43L18 38.5C14.5 35.5 12.5 32.5 11.7 29.5C9.5 27.5 9.7 20.5 12 19.5L12.3 15C12.5 12.5 12.8 9.5 14 6.5C16 2.2 21 0.2 27.5 0.2Z"/></svg><svg style="left:434.250px" viewBox="0 0 55 71.3" fill="#12BB73"><path d="M27.5 0.2C34 0.2 39 2.2 41 6.5C42.2 9.5 42.5 12.5 42.7 15L43 19.5C45.3 20.5 45.5 27.5 43.3 29.5C42.5 32.5 40.5 35.5 37 38.5L36.6 43C38 46 43 48 49 50C53.5 51.5 55 54 55 57.5L55 67C50 70.3 40 71.3 27.5 71.3C15 71.3 5 70.3 0 67L0 57.5C0 54 1.5 51.5 6 50C12 48 17 46 18.4 43L18 38.5C14.5 35.5 12.5 32.5 11.7 29.5C9.5 27.5 9.7 20.5 12 19.5L12.3 15C12.5 12.5 12.8 9.5 14 6.5C16 2.2 21 0.2 27.5 0.2Z"/></svg><svg style="left:506.625px" viewBox="0 0 55 71.3" fill="#12BB73"><path d="M27.5 0.2C34 0.2 39 2.2 41 6.5C42.2 9.5 42.5 12.5 42.7 15L43 19.5C45.3 20.5 45.5 27.5 43.3 29.5C42.5 32.5 40.5 35.5 37 38.5L36.6 43C38 46 43 48 49 50C53.5 51.5 55 54 55 57.5L55 67C50 70.3 40 71.3 27.5 71.3C15 71.3 5 70.3 0 67L0 57.5C0 54 1.5 51.5 6 50C12 48 17 46 18.4 43L18 38.5C14.5 35.5 12.5 32.5 11.7 29.5C9.5 27.5 9.7 20.5 12 19.5L12.3 15C12.5 12.5 12.8 9.5 14 6.5C16 2.2 21 0.2 27.5 0.2Z"/></svg></div>
<div class="pct" style="left:812.80px;top:994.50px">1.92%</div>
<div class="band" style="top:1090.10px"></div>
<div class="lbl" style="top:1114.80px">天津市</div>
<div class="icons" style="left:222.3px;top:1099.70px;width:561.62px"><svg style="left:0.000px" viewBox="0 0 55 71.3" fill="#12BB73"><path d="M27.5 0.2C34 0.2 39 2.2 41 6.5C42.2 9.5 42.5 12.5 42.7 15L43 19.5C45.3 20.5 45.5 27.5 43.3 29.5C42.5 32.5 40.5 35.5 37 38.5L36.6 43C38 46 43 48 49 50C53.5 51.5 55 54 55 57.5L55 67C50 70.3 40 71.3 27.5 71.3C15 71.3 5 70.3 0 67L0 57.5C0 54 1.5 51.5 6 50C12 48 17 46 18.4 43L18 38.5C14.5 35.5 12.5 32.5 11.7 29.5C9.5 27.5 9.7 20.5 12 19.5L12.3 15C12.5 12.5 12.8 9.5 14 6.5C16 2.2 21 0.2 27.5 0.2Z"/></svg><svg style="left:72.375px" viewBox="0 0 55 71.3" fill="#12BB73"><path d="M27.5 0.2C34 0.2 39 2.2 41 6.5C42.2 9.5 42.5 12.5 42.7 15L43 19.5C45.3 20.5 45.5 27.5 43.3 29.5C42.5 32.5 40.5 35.5 37 38.5L36.6 43C38 46 43 48 49 50C53.5 51.5 55 54 55 57.5L55 67C50 70.3 40 71.3 27.5 71.3C15 71.3 5 70.3 0 67L0 57.5C0 54 1.5 51.5 6 50C12 48 17 46 18.4 43L18 38.5C14.5 35.5 12.5 32.5 11.7 29.5C9.5 27.5 9.7 20.5 12 19.5L12.3 15C12.5 12.5 12.8 9.5 14 6.5C16 2.2 21 0.2 27.5 0.2Z"/></svg><svg style="left:144.750px" viewBox="0 0 55 71.3" fill="#12BB73"><path d="M27.5 0.2C34 0.2 39 2.2 41 6.5C42.2 9.5 42.5 12.5 42.7 15L43 19.5C45.3 20.5 45.5 27.5 43.3 29.5C42.5 32.5 40.5 35.5 37 38.5L36.6 43C38 46 43 48 49 50C53.5 51.5 55 54 55 57.5L55 67C50 70.3 40 71.3 27.5 71.3C15 71.3 5 70.3 0 67L0 57.5C0 54 1.5 51.5 6 50C12 48 17 46 18.4 43L18 38.5C14.5 35.5 12.5 32.5 11.7 29.5C9.5 27.5 9.7 20.5 12 19.5L12.3 15C12.5 12.5 12.8 9.5 14 6.5C16 2.2 21 0.2 27.5 0.2Z"/></svg><svg style="left:217.125px" viewBox="0 0 55 71.3" fill="#12BB73"><path d="M27.5 0.2C34 0.2 39 2.2 41 6.5C42.2 9.5 42.5 12.5 42.7 15L43 19.5C45.3 20.5 45.5 27.5 43.3 29.5C42.5 32.5 40.5 35.5 37 38.5L36.6 43C38 46 43 48 49 50C53.5 51.5 55 54 55 57.5L55 67C50 70.3 40 71.3 27.5 71.3C15 71.3 5 70.3 0 67L0 57.5C0 54 1.5 51.5 6 50C12 48 17 46 18.4 43L18 38.5C14.5 35.5 12.5 32.5 11.7 29.5C9.5 27.5 9.7 20.5 12 19.5L12.3 15C12.5 12.5 12.8 9.5 14 6.5C16 2.2 21 0.2 27.5 0.2Z"/></svg><svg style="left:289.500px" viewBox="0 0 55 71.3" fill="#12BB73"><path d="M27.5 0.2C34 0.2 39 2.2 41 6.5C42.2 9.5 42.5 12.5 42.7 15L43 19.5C45.3 20.5 45.5 27.5 43.3 29.5C42.5 32.5 40.5 35.5 37 38.5L36.6 43C38 46 43 48 49 50C53.5 51.5 55 54 55 57.5L55 67C50 70.3 40 71.3 27.5 71.3C15 71.3 5 70.3 0 67L0 57.5C0 54 1.5 51.5 6 50C12 48 17 46 18.4 43L18 38.5C14.5 35.5 12.5 32.5 11.7 29.5C9.5 27.5 9.7 20.5 12 19.5L12.3 15C12.5 12.5 12.8 9.5 14 6.5C16 2.2 21 0.2 27.5 0.2Z"/></svg><svg style="left:361.875px" viewBox="0 0 55 71.3" fill="#12BB73"><path d="M27.5 0.2C34 0.2 39 2.2 41 6.5C42.2 9.5 42.5 12.5 42.7 15L43 19.5C45.3 20.5 45.5 27.5 43.3 29.5C42.5 32.5 40.5 35.5 37 38.5L36.6 43C38 46 43 48 49 50C53.5 51.5 55 54 55 57.5L55 67C50 70.3 40 71.3 27.5 71.3C15 71.3 5 70.3 0 67L0 57.5C0 54 1.5 51.5 6 50C12 48 17 46 18.4 43L18 38.5C14.5 35.5 12.5 32.5 11.7 29.5C9.5 27.5 9.7 20.5 12 19.5L12.3 15C12.5 12.5 12.8 9.5 14 6.5C16 2.2 21 0.2 27.5 0.2Z"/></svg><svg style="left:434.250px" viewBox="0 0 55 71.3" fill="#12BB73"><path d="M27.5 0.2C34 0.2 39 2.2 41 6.5C42.2 9.5 42.5 12.5 42.7 15L43 19.5C45.3 20.5 45.5 27.5 43.3 29.5C42.5 32.5 40.5 35.5 37 38.5L36.6 43C38 46 43 48 49 50C53.5 51.5 55 54 55 57.5L55 67C50 70.3 40 71.3 27.5 71.3C15 71.3 5 70.3 0 67L0 57.5C0 54 1.5 51.5 6 50C12 48 17 46 18.4 43L18 38.5C14.5 35.5 12.5 32.5 11.7 29.5C9.5 27.5 9.7 20.5 12 19.5L12.3 15C12.5 12.5 12.8 9.5 14 6.5C16 2.2 21 0.2 27.5 0.2Z"/></svg><svg style="left:506.625px" viewBox="0 0 55 71.3" fill="#12BB73"><path d="M27.5 0.2C34 0.2 39 2.2 41 6.5C42.2 9.5 42.5 12.5 42.7 15L43 19.5C45.3 20.5 45.5 27.5 43.3 29.5C42.5 32.5 40.5 35.5 37 38.5L36.6 43C38 46 43 48 49 50C53.5 51.5 55 54 55 57.5L55 67C50 70.3 40 71.3 27.5 71.3C15 71.3 5 70.3 0 67L0 57.5C0 54 1.5 51.5 6 50C12 48 17 46 18.4 43L18 38.5C14.5 35.5 12.5 32.5 11.7 29.5C9.5 27.5 9.7 20.5 12 19.5L12.3 15C12.5 12.5 12.8 9.5 14 6.5C16 2.2 21 0.2 27.5 0.2Z"/></svg></div>
<div class="pct" style="left:810.90px;top:1110.15px">1.90%</div>
<div class="band" style="top:1205.75px"></div>
<div class="lbl" style="top:1230.45px">苏州市</div>
<div class="icons" style="left:222.3px;top:1215.35px;width:489.25px"><svg style="left:0.000px" viewBox="0 0 55 71.3" fill="#12BB73"><path d="M27.5 0.2C34 0.2 39 2.2 41 6.5C42.2 9.5 42.5 12.5 42.7 15L43 19.5C45.3 20.5 45.5 27.5 43.3 29.5C42.5 32.5 40.5 35.5 37 38.5L36.6 43C38 46 43 48 49 50C53.5 51.5 55 54 55 57.5L55 67C50 70.3 40 71.3 27.5 71.3C15 71.3 5 70.3 0 67L0 57.5C0 54 1.5 51.5 6 50C12 48 17 46 18.4 43L18 38.5C14.5 35.5 12.5 32.5 11.7 29.5C9.5 27.5 9.7 20.5 12 19.5L12.3 15C12.5 12.5 12.8 9.5 14 6.5C16 2.2 21 0.2 27.5 0.2Z"/></svg><svg style="left:72.375px" viewBox="0 0 55 71.3" fill="#12BB73"><path d="M27.5 0.2C34 0.2 39 2.2 41 6.5C42.2 9.5 42.5 12.5 42.7 15L43 19.5C45.3 20.5 45.5 27.5 43.3 29.5C42.5 32.5 40.5 35.5 37 38.5L36.6 43C38 46 43 48 49 50C53.5 51.5 55 54 55 57.5L55 67C50 70.3 40 71.3 27.5 71.3C15 71.3 5 70.3 0 67L0 57.5C0 54 1.5 51.5 6 50C12 48 17 46 18.4 43L18 38.5C14.5 35.5 12.5 32.5 11.7 29.5C9.5 27.5 9.7 20.5 12 19.5L12.3 15C12.5 12.5 12.8 9.5 14 6.5C16 2.2 21 0.2 27.5 0.2Z"/></svg><svg style="left:144.750px" viewBox="0 0 55 71.3" fill="#12BB73"><path d="M27.5 0.2C34 0.2 39 2.2 41 6.5C42.2 9.5 42.5 12.5 42.7 15L43 19.5C45.3 20.5 45.5 27.5 43.3 29.5C42.5 32.5 40.5 35.5 37 38.5L36.6 43C38 46 43 48 49 50C53.5 51.5 55 54 55 57.5L55 67C50 70.3 40 71.3 27.5 71.3C15 71.3 5 70.3 0 67L0 57.5C0 54 1.5 51.5 6 50C12 48 17 46 18.4 43L18 38.5C14.5 35.5 12.5 32.5 11.7 29.5C9.5 27.5 9.7 20.5 12 19.5L12.3 15C12.5 12.5 12.8 9.5 14 6.5C16 2.2 21 0.2 27.5 0.2Z"/></svg><svg style="left:217.125px" viewBox="0 0 55 71.3" fill="#12BB73"><path d="M27.5 0.2C34 0.2 39 2.2 41 6.5C42.2 9.5 42.5 12.5 42.7 15L43 19.5C45.3 20.5 45.5 27.5 43.3 29.5C42.5 32.5 40.5 35.5 37 38.5L36.6 43C38 46 43 48 49 50C53.5 51.5 55 54 55 57.5L55 67C50 70.3 40 71.3 27.5 71.3C15 71.3 5 70.3 0 67L0 57.5C0 54 1.5 51.5 6 50C12 48 17 46 18.4 43L18 38.5C14.5 35.5 12.5 32.5 11.7 29.5C9.5 27.5 9.7 20.5 12 19.5L12.3 15C12.5 12.5 12.8 9.5 14 6.5C16 2.2 21 0.2 27.5 0.2Z"/></svg><svg style="left:289.500px" viewBox="0 0 55 71.3" fill="#12BB73"><path d="M27.5 0.2C34 0.2 39 2.2 41 6.5C42.2 9.5 42.5 12.5 42.7 15L43 19.5C45.3 20.5 45.5 27.5 43.3 29.5C42.5 32.5 40.5 35.5 37 38.5L36.6 43C38 46 43 48 49 50C53.5 51.5 55 54 55 57.5L55 67C50 70.3 40 71.3 27.5 71.3C15 71.3 5 70.3 0 67L0 57.5C0 54 1.5 51.5 6 50C12 48 17 46 18.4 43L18 38.5C14.5 35.5 12.5 32.5 11.7 29.5C9.5 27.5 9.7 20.5 12 19.5L12.3 15C12.5 12.5 12.8 9.5 14 6.5C16 2.2 21 0.2 27.5 0.2Z"/></svg><svg style="left:361.875px" viewBox="0 0 55 71.3" fill="#12BB73"><path d="M27.5 0.2C34 0.2 39 2.2 41 6.5C42.2 9.5 42.5 12.5 42.7 15L43 19.5C45.3 20.5 45.5 27.5 43.3 29.5C42.5 32.5 40.5 35.5 37 38.5L36.6 43C38 46 43 48 49 50C53.5 51.5 55 54 55 57.5L55 67C50 70.3 40 71.3 27.5 71.3C15 71.3 5 70.3 0 67L0 57.5C0 54 1.5 51.5 6 50C12 48 17 46 18.4 43L18 38.5C14.5 35.5 12.5 32.5 11.7 29.5C9.5 27.5 9.7 20.5 12 19.5L12.3 15C12.5 12.5 12.8 9.5 14 6.5C16 2.2 21 0.2 27.5 0.2Z"/></svg><svg style="left:434.250px" viewBox="0 0 55 71.3" fill="#12BB73"><path d="M27.5 0.2C34 0.2 39 2.2 41 6.5C42.2 9.5 42.5 12.5 42.7 15L43 19.5C45.3 20.5 45.5 27.5 43.3 29.5C42.5 32.5 40.5 35.5 37 38.5L36.6 43C38 46 43 48 49 50C53.5 51.5 55 54 55 57.5L55 67C50 70.3 40 71.3 27.5 71.3C15 71.3 5 70.3 0 67L0 57.5C0 54 1.5 51.5 6 50C12 48 17 46 18.4 43L18 38.5C14.5 35.5 12.5 32.5 11.7 29.5C9.5 27.5 9.7 20.5 12 19.5L12.3 15C12.5 12.5 12.8 9.5 14 6.5C16 2.2 21 0.2 27.5 0.2Z"/></svg></div>
<div class="pct" style="left:752.20px;top:1225.80px">1.71%</div>
<div class="band" style="top:1321.40px"></div>
<div class="lbl" style="top:1346.10px">郑州市</div>
<div class="icons" style="left:222.3px;top:1331.00px;width:489.25px"><svg style="left:0.000px" viewBox="0 0 55 71.3" fill="#12BB73"><path d="M27.5 0.2C34 0.2 39 2.2 41 6.5C42.2 9.5 42.5 12.5 42.7 15L43 19.5C45.3 20.5 45.5 27.5 43.3 29.5C42.5 32.5 40.5 35.5 37 38.5L36.6 43C38 46 43 48 49 50C53.5 51.5 55 54 55 57.5L55 67C50 70.3 40 71.3 27.5 71.3C15 71.3 5 70.3 0 67L0 57.5C0 54 1.5 51.5 6 50C12 48 17 46 18.4 43L18 38.5C14.5 35.5 12.5 32.5 11.7 29.5C9.5 27.5 9.7 20.5 12 19.5L12.3 15C12.5 12.5 12.8 9.5 14 6.5C16 2.2 21 0.2 27.5 0.2Z"/></svg><svg style="left:72.375px" viewBox="0 0 55 71.3" fill="#12BB73"><path d="M27.5 0.2C34 0.2 39 2.2 41 6.5C42.2 9.5 42.5 12.5 42.7 15L43 19.5C45.3 20.5 45.5 27.5 43.3 29.5C42.5 32.5 40.5 35.5 37 38.5L36.6 43C38 46 43 48 49 50C53.5 51.5 55 54 55 57.5L55 67C50 70.3 40 71.3 27.5 71.3C15 71.3 5 70.3 0 67L0 57.5C0 54 1.5 51.5 6 50C12 48 17 46 18.4 43L18 38.5C14.5 35.5 12.5 32.5 11.7 29.5C9.5 27.5 9.7 20.5 12 19.5L12.3 15C12.5 12.5 12.8 9.5 14 6.5C16 2.2 21 0.2 27.5 0.2Z"/></svg><svg style="left:144.750px" viewBox="0 0 55 71.3" fill="#12BB73"><path d="M27.5 0.2C34 0.2 39 2.2 41 6.5C42.2 9.5 42.5 12.5 42.7 15L43 19.5C45.3 20.5 45.5 27.5 43.3 29.5C42.5 32.5 40.5 35.5 37 38.5L36.6 43C38 46 43 48 49 50C53.5 51.5 55 54 55 57.5L55 67C50 70.3 40 71.3 27.5 71.3C15 71.3 5 70.3 0 67L0 57.5C0 54 1.5 51.5 6 50C12 48 17 46 18.4 43L18 38.5C14.5 35.5 12.5 32.5 11.7 29.5C9.5 27.5 9.7 20.5 12 19.5L12.3 15C12.5 12.5 12.8 9.5 14 6.5C16 2.2 21 0.2 27.5 0.2Z"/></svg><svg style="left:217.125px" viewBox="0 0 55 71.3" fill="#12BB73"><path d="M27.5 0.2C34 0.2 39 2.2 41 6.5C42.2 9.5 42.5 12.5 42.7 15L43 19.5C45.3 20.5 45.5 27.5 43.3 29.5C42.5 32.5 40.5 35.5 37 38.5L36.6 43C38 46 43 48 49 50C53.5 51.5 55 54 55 57.5L55 67C50 70.3 40 71.3 27.5 71.3C15 71.3 5 70.3 0 67L0 57.5C0 54 1.5 51.5 6 50C12 48 17 46 18.4 43L18 38.5C14.5 35.5 12.5 32.5 11.7 29.5C9.5 27.5 9.7 20.5 12 19.5L12.3 15C12.5 12.5 12.8 9.5 14 6.5C16 2.2 21 0.2 27.5 0.2Z"/></svg><svg style="left:289.500px" viewBox="0 0 55 71.3" fill="#12BB73"><path d="M27.5 0.2C34 0.2 39 2.2 41 6.5C42.2 9.5 42.5 12.5 42.7 15L43 19.5C45.3 20.5 45.5 27.5 43.3 29.5C42.5 32.5 40.5 35.5 37 38.5L36.6 43C38 46 43 48 49 50C53.5 51.5 55 54 55 57.5L55 67C50 70.3 40 71.3 27.5 71.3C15 71.3 5 70.3 0 67L0 57.5C0 54 1.5 51.5 6 50C12 48 17 46 18.4 43L18 38.5C14.5 35.5 12.5 32.5 11.7 29.5C9.5 27.5 9.7 20.5 12 19.5L12.3 15C12.5 12.5 12.8 9.5 14 6.5C16 2.2 21 0.2 27.5 0.2Z"/></svg><svg style="left:361.875px" viewBox="0 0 55 71.3" fill="#12BB73"><path d="M27.5 0.2C34 0.2 39 2.2 41 6.5C42.2 9.5 42.5 12.5 42.7 15L43 19.5C45.3 20.5 45.5 27.5 43.3 29.5C42.5 32.5 40.5 35.5 37 38.5L36.6 43C38 46 43 48 49 50C53.5 51.5 55 54 55 57.5L55 67C50 70.3 40 71.3 27.5 71.3C15 71.3 5 70.3 0 67L0 57.5C0 54 1.5 51.5 6 50C12 48 17 46 18.4 43L18 38.5C14.5 35.5 12.5 32.5 11.7 29.5C9.5 27.5 9.7 20.5 12 19.5L12.3 15C12.5 12.5 12.8 9.5 14 6.5C16 2.2 21 0.2 27.5 0.2Z"/></svg><svg style="left:434.250px" viewBox="0 0 55 71.3" fill="#12BB73"><path d="M27.5 0.2C34 0.2 39 2.2 41 6.5C42.2 9.5 42.5 12.5 42.7 15L43 19.5C45.3 20.5 45.5 27.5 43.3 29.5C42.5 32.5 40.5 35.5 37 38.5L36.6 43C38 46 43 48 49 50C53.5 51.5 55 54 55 57.5L55 67C50 70.3 40 71.3 27.5 71.3C15 71.3 5 70.3 0 67L0 57.5C0 54 1.5 51.5 6 50C12 48 17 46 18.4 43L18 38.5C14.5 35.5 12.5 32.5 11.7 29.5C9.5 27.5 9.7 20.5 12 19.5L12.3 15C12.5 12.5 12.8 9.5 14 6.5C16 2.2 21 0.2 27.5 0.2Z"/></svg></div>
<div class="pct" style="left:743.40px;top:1341.45px">1.68%</div>
<div class="band" style="top:1437.05px"></div>
<div class="lbl" style="top:1461.75px">西安市</div>
<div class="icons" style="left:222.3px;top:1446.65px;width:468.40px"><svg style="left:0.000px" viewBox="0 0 55 71.3" fill="#12BB73"><path d="M27.5 0.2C34 0.2 39 2.2 41 6.5C42.2 9.5 42.5 12.5 42.7 15L43 19.5C45.3 20.5 45.5 27.5 43.3 29.5C42.5 32.5 40.5 35.5 37 38.5L36.6 43C38 46 43 48 49 50C53.5 51.5 55 54 55 57.5L55 67C50 70.3 40 71.3 27.5 71.3C15 71.3 5 70.3 0 67L0 57.5C0 54 1.5 51.5 6 50C12 48 17 46 18.4 43L18 38.5C14.5 35.5 12.5 32.5 11.7 29.5C9.5 27.5 9.7 20.5 12 19.5L12.3 15C12.5 12.5 12.8 9.5 14 6.5C16 2.2 21 0.2 27.5 0.2Z"/></svg><svg style="left:72.375px" viewBox="0 0 55 71.3" fill="#12BB73"><path d="M27.5 0.2C34 0.2 39 2.2 41 6.5C42.2 9.5 42.5 12.5 42.7 15L43 19.5C45.3 20.5 45.5 27.5 43.3 29.5C42.5 32.5 40.5 35.5 37 38.5L36.6 43C38 46 43 48 49 50C53.5 51.5 55 54 55 57.5L55 67C50 70.3 40 71.3 27.5 71.3C15 71.3 5 70.3 0 67L0 57.5C0 54 1.5 51.5 6 50C12 48 17 46 18.4 43L18 38.5C14.5 35.5 12.5 32.5 11.7 29.5C9.5 27.5 9.7 20.5 12 19.5L12.3 15C12.5 12.5 12.8 9.5 14 6.5C16 2.2 21 0.2 27.5 0.2Z"/></svg><svg style="left:144.750px" viewBox="0 0 55 71.3" fill="#12BB73"><path d="M27.5 0.2C34 0.2 39 2.2 41 6.5C42.2 9.5 42.5 12.5 42.7 15L43 19.5C45.3 20.5 45.5 27.5 43.3 29.5C42.5 32.5 40.5 35.5 37 38.5L36.6 43C38 46 43 48 49 50C53.5 51.5 55 54 55 57.5L55 67C50 70.3 40 71.3 27.5 71.3C15 71.3 5 70.3 0 67L0 57.5C0 54 1.5 51.5 6 50C12 48 17 46 18.4 43L18 38.5C14.5 35.5 12.5 32.5 11.7 29.5C9.5 27.5 9.7 20.5 12 19.5L12.3 15C12.5 12.5 12.8 9.5 14 6.5C16 2.2 21 0.2 27.5 0.2Z"/></svg><svg style="left:217.125px" viewBox="0 0 55 71.3" fill="#12BB73"><path d="M27.5 0.2C34 0.2 39 2.2 41 6.5C42.2 9.5 42.5 12.5 42.7 15L43 19.5C45.3 20.5 45.5 27.5 43.3 29.5C42.5 32.5 40.5 35.5 37 38.5L36.6 43C38 46 43 48 49 50C53.5 51.5 55 54 55 57.5L55 67C50 70.3 40 71.3 27.5 71.3C15 71.3 5 70.3 0 67L0 57.5C0 54 1.5 51.5 6 50C12 48 17 46 18.4 43L18 38.5C14.5 35.5 12.5 32.5 11.7 29.5C9.5 27.5 9.7 20.5 12 19.5L12.3 15C12.5 12.5 12.8 9.5 14 6.5C16 2.2 21 0.2 27.5 0.2Z"/></svg><svg style="left:289.500px" viewBox="0 0 55 71.3" fill="#12BB73"><path d="M27.5 0.2C34 0.2 39 2.2 41 6.5C42.2 9.5 42.5 12.5 42.7 15L43 19.5C45.3 20.5 45.5 27.5 43.3 29.5C42.5 32.5 40.5 35.5 37 38.5L36.6 43C38 46 43 48 49 50C53.5 51.5 55 54 55 57.5L55 67C50 70.3 40 71.3 27.5 71.3C15 71.3 5 70.3 0 67L0 57.5C0 54 1.5 51.5 6 50C12 48 17 46 18.4 43L18 38.5C14.5 35.5 12.5 32.5 11.7 29.5C9.5 27.5 9.7 20.5 12 19.5L12.3 15C12.5 12.5 12.8 9.5 14 6.5C16 2.2 21 0.2 27.5 0.2Z"/></svg><svg style="left:361.875px" viewBox="0 0 55 71.3" fill="#12BB73"><path d="M27.5 0.2C34 0.2 39 2.2 41 6.5C42.2 9.5 42.5 12.5 42.7 15L43 19.5C45.3 20.5 45.5 27.5 43.3 29.5C42.5 32.5 40.5 35.5 37 38.5L36.6 43C38 46 43 48 49 50C53.5 51.5 55 54 55 57.5L55 67C50 70.3 40 71.3 27.5 71.3C15 71.3 5 70.3 0 67L0 57.5C0 54 1.5 51.5 6 50C12 48 17 46 18.4 43L18 38.5C14.5 35.5 12.5 32.5 11.7 29.5C9.5 27.5 9.7 20.5 12 19.5L12.3 15C12.5 12.5 12.8 9.5 14 6.5C16 2.2 21 0.2 27.5 0.2Z"/></svg><svg style="left:434.250px" viewBox="0 0 55 71.3" fill="#12BB73"><path d="M27.5 0.2C34 0.2 39 2.2 41 6.5C42.2 9.5 42.5 12.5 42.7 15L43 19.5C45.3 20.5 45.5 27.5 43.3 29.5C42.5 32.5 40.5 35.5 37 38.5L36.6 43C38 46 43 48 49 50C53.5 51.5 55 54 55 57.5L55 67C50 70.3 40 71.3 27.5 71.3C15 71.3 5 70.3 0 67L0 57.5C0 54 1.5 51.5 6 50C12 48 17 46 18.4 43L18 38.5C14.5 35.5 12.5 32.5 11.7 29.5C9.5 27.5 9.7 20.5 12 19.5L12.3 15C12.5 12.5 12.8 9.5 14 6.5C16 2.2 21 0.2 27.5 0.2Z"/></svg></div>
<div class="pct" style="left:715.00px;top:1457.10px">1.58%</div>
<div class="foot" style="left:25.5px;top:1602.0px">数据来源<span class="cj" lang="ja">：</span>极光大数据<span class="cm">，</span>取数周期<span class="cj" lang="ja">：</span><span class="ld">2018.07</span></div>
<div class="foot" style="left:25.5px;top:1656.8px">该统计结果仅含独立应用端数据<span class="cm">，</span>不含其它平台内部数据</div>
<div class="foot" style="left:28.5px;top:1711.6px">&nbsp;*有声音频应用包含喜马拉雅、蜻蜓<span class="fm">FM</span>、荔枝<span class="fm">FM</span>等独立音频应用</div>
<div class="wm">
<svg class="abs" style="left:91.50px;top:589.30px;width:641.82px;height:561.75px" viewBox="0 0 2044 1789" fill="rgba(20,165,90,0.2)"><path d="M243.3 1000.3A800 800 0 0 1 1561.8 296.2L1385.2 493.8A535 535 0 0 0 518.1 769.7Z"/><path d="M1829.1 788.0A800 800 0 0 1 515.3 1506.5L701.0 1316.4A535 535 0 0 0 1553.8 1038.5Z"/><path d="M122 1300L860 598L1170 655L140 1697L128 1697Z"/><path d="M1950 105L1955 500L1230 1210L905 1150Z"/></svg>
<div class="abs" style="left:842.22px;top:663.19px;font:bold 250.54px/1 'DejaVu Sans',sans-serif;color:rgba(20,165,90,0.2);transform-origin:0 0;transform:scaleX(0.9234);white-space:nowrap;">J</div>
<div class="abs" style="left:919.13px;top:663.17px;font:bold 250.68px/1 'DejaVu Sans',sans-serif;color:rgba(20,165,90,0.2);transform-origin:0 0;transform:scaleX(0.9028);white-space:nowrap;">I</div>
<div class="abs" style="left:1000.16px;top:651.13px;font:bold 264.65px/1 'Liberation Sans',sans-serif;color:rgba(20,165,90,0.2);transform-origin:0 0;transform:scaleX(1.0244);white-space:nowrap;">G</div>
<div class="abs" style="left:1193.23px;top:661.81px;font:bold 249.05px/1 'DejaVu Sans',sans-serif;color:rgba(20,165,90,0.2);transform-origin:0 0;transform:scaleX(1.0025);white-space:nowrap;">U</div>
<div class="abs" style="left:1374.88px;top:655.76px;font:bold 261.24px/1 'DejaVu Sans',sans-serif;color:rgba(20,165,90,0.2);transform-origin:0 0;transform:scaleX(1.0139);white-space:nowrap;">A</div>
<div class="abs" style="left:1575.87px;top:662.79px;font:bold 251.37px/1 'DejaVu Sans',sans-serif;color:rgba(20,165,90,0.2);transform-origin:0 0;transform:scaleX(1.0046);white-space:nowrap;">N</div>
<div class="abs" style="left:1773.95px;top:649.80px;font:bold 266.90px/1 'Liberation Sans',sans-serif;color:rgba(20,165,90,0.2);transform-origin:0 0;transform:scaleX(1.0352);white-space:nowrap;">G</div>
<div class="abs" style="left:1227.7px;top:945.6px;font:bold 116px/1 'Liberation Sans','Noto Sans CJK SC',sans-serif;letter-spacing:43.5px;color:rgba(20,165,90,0.2);white-space:nowrap;">极光大数据</div>
<div class="abs" style="left:839px;top:999.3px;width:316px;height:4.6px;background:rgba(20,165,90,0.2);"></div>
</div>
</body></html>
